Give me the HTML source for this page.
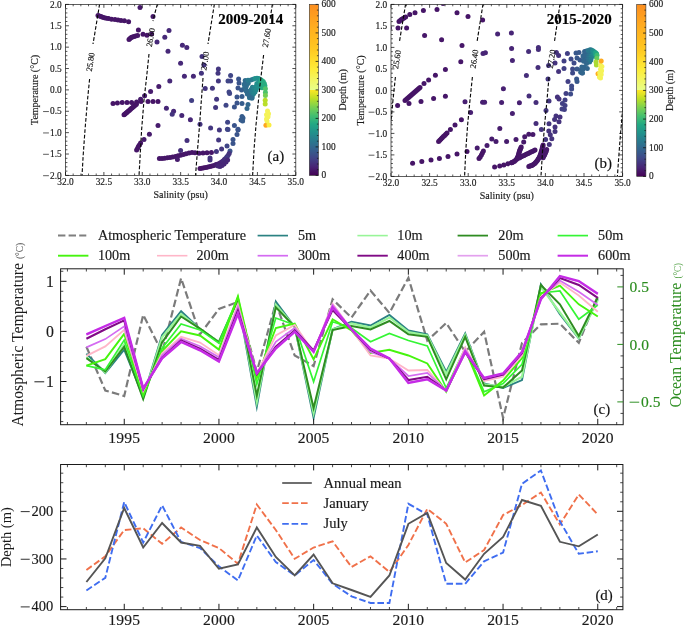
<!DOCTYPE html><html><head><meta charset="utf-8"><title>figure</title>
<style>html,body{margin:0;padding:0;background:#fff;overflow:hidden}svg{display:block;will-change:transform;opacity:0.9999}text{font-family:"Liberation Serif",serif;stroke-width:0.16px;stroke-linejoin:round}</style></head><body>
<svg width="685" height="627" viewBox="0 0 685 627">
<rect width="685" height="627" fill="#fff"/>
<clipPath id="ca"><rect x="65.5" y="4.4" width="230.3" height="171.0"/></clipPath>
<g clip-path="url(#ca)">
<circle cx="98.0" cy="15.4" r="2.5" fill="#461567"/>
<circle cx="99.4" cy="16.0" r="2.5" fill="#461567"/>
<circle cx="101.0" cy="16.6" r="2.5" fill="#461567"/>
<circle cx="102.6" cy="17.2" r="2.5" fill="#461567"/>
<circle cx="104.4" cy="17.8" r="2.5" fill="#461567"/>
<circle cx="106.4" cy="18.2" r="2.5" fill="#461567"/>
<circle cx="108.6" cy="18.6" r="2.5" fill="#461567"/>
<circle cx="111.6" cy="19.2" r="2.5" fill="#461567"/>
<circle cx="115.0" cy="19.6" r="2.5" fill="#461567"/>
<circle cx="118.0" cy="20.0" r="2.5" fill="#461567"/>
<circle cx="121.0" cy="20.4" r="2.5" fill="#461567"/>
<circle cx="124.4" cy="20.8" r="2.5" fill="#461567"/>
<circle cx="128.6" cy="21.8" r="2.5" fill="#461567"/>
<circle cx="140.0" cy="7.4" r="2.5" fill="#471a6b"/>
<circle cx="153.0" cy="16.4" r="2.5" fill="#471a6b"/>
<circle cx="129.0" cy="39.4" r="2.5" fill="#461567"/>
<circle cx="130.0" cy="38.4" r="2.5" fill="#461567"/>
<circle cx="131.2" cy="37.6" r="2.5" fill="#461567"/>
<circle cx="132.4" cy="37.0" r="2.5" fill="#461567"/>
<circle cx="134.0" cy="36.4" r="2.5" fill="#461567"/>
<circle cx="135.6" cy="36.0" r="2.5" fill="#461567"/>
<circle cx="137.6" cy="35.6" r="2.5" fill="#461567"/>
<circle cx="138.4" cy="30.0" r="2.5" fill="#461567"/>
<circle cx="143.0" cy="34.2" r="2.5" fill="#461567"/>
<circle cx="147.0" cy="35.2" r="2.5" fill="#461567"/>
<circle cx="151.6" cy="34.0" r="2.5" fill="#461567"/>
<circle cx="169.0" cy="30.4" r="2.5" fill="#472978"/>
<circle cx="164.8" cy="37.2" r="2.5" fill="#472978"/>
<circle cx="157.0" cy="42.0" r="2.5" fill="#472978"/>
<circle cx="182.4" cy="45.2" r="2.5" fill="#472978"/>
<circle cx="186.8" cy="47.4" r="2.5" fill="#472978"/>
<circle cx="168.0" cy="51.2" r="2.5" fill="#472978"/>
<circle cx="180.6" cy="63.2" r="2.5" fill="#472978"/>
<circle cx="184.4" cy="76.2" r="2.5" fill="#472978"/>
<circle cx="193.4" cy="76.2" r="2.5" fill="#472978"/>
<circle cx="169.8" cy="81.0" r="2.5" fill="#472978"/>
<circle cx="158.8" cy="86.6" r="2.5" fill="#471c6d"/>
<circle cx="150.6" cy="91.6" r="2.5" fill="#471c6d"/>
<circle cx="144.6" cy="95.8" r="2.5" fill="#471c6d"/>
<circle cx="140.6" cy="99.2" r="2.5" fill="#471c6d"/>
<circle cx="113.0" cy="103.4" r="2.5" fill="#461567"/>
<circle cx="117.4" cy="103.0" r="2.5" fill="#461567"/>
<circle cx="122.2" cy="102.6" r="2.5" fill="#461567"/>
<circle cx="127.0" cy="102.4" r="2.5" fill="#461567"/>
<circle cx="131.6" cy="102.4" r="2.5" fill="#461567"/>
<circle cx="136.6" cy="102.0" r="2.5" fill="#461567"/>
<circle cx="141.0" cy="101.5" r="2.5" fill="#461567"/>
<circle cx="148.0" cy="101.6" r="2.5" fill="#461567"/>
<circle cx="153.0" cy="101.6" r="2.5" fill="#461567"/>
<circle cx="158.0" cy="101.6" r="2.5" fill="#461567"/>
<circle cx="124.0" cy="114.8" r="2.5" fill="#461466"/>
<circle cx="125.0" cy="113.9" r="2.5" fill="#461466"/>
<circle cx="126.1" cy="113.0" r="2.5" fill="#461466"/>
<circle cx="127.1" cy="112.2" r="2.5" fill="#461466"/>
<circle cx="128.1" cy="111.3" r="2.5" fill="#461466"/>
<circle cx="129.2" cy="110.4" r="2.5" fill="#461466"/>
<circle cx="130.2" cy="109.5" r="2.5" fill="#461466"/>
<circle cx="131.2" cy="108.6" r="2.5" fill="#461466"/>
<circle cx="132.3" cy="107.7" r="2.5" fill="#461466"/>
<circle cx="133.3" cy="106.8" r="2.5" fill="#461466"/>
<circle cx="134.3" cy="106.0" r="2.5" fill="#461466"/>
<circle cx="135.4" cy="105.1" r="2.5" fill="#461466"/>
<circle cx="136.4" cy="104.2" r="2.5" fill="#461466"/>
<circle cx="191.6" cy="100.6" r="2.5" fill="#423f84"/>
<circle cx="166.4" cy="108.2" r="2.5" fill="#472777"/>
<circle cx="173.6" cy="111.2" r="2.5" fill="#472777"/>
<circle cx="181.8" cy="115.4" r="2.5" fill="#472777"/>
<circle cx="190.4" cy="119.8" r="2.5" fill="#472777"/>
<circle cx="172.2" cy="114.2" r="2.5" fill="#44347e"/>
<circle cx="158.0" cy="125.6" r="2.5" fill="#471c6d"/>
<circle cx="149.4" cy="134.2" r="2.5" fill="#471c6d"/>
<circle cx="144.0" cy="139.4" r="2.5" fill="#471c6d"/>
<circle cx="140.6" cy="143.0" r="2.5" fill="#461567"/>
<circle cx="139.4" cy="145.0" r="2.5" fill="#461567"/>
<circle cx="138.4" cy="146.6" r="2.5" fill="#461567"/>
<circle cx="137.6" cy="148.2" r="2.5" fill="#461567"/>
<circle cx="136.6" cy="150.0" r="2.5" fill="#461567"/>
<circle cx="187.0" cy="140.6" r="2.5" fill="#45307c"/>
<circle cx="180.6" cy="150.6" r="2.5" fill="#45307c"/>
<circle cx="159.4" cy="158.6" r="2.5" fill="#461668"/>
<circle cx="162.0" cy="158.4" r="2.5" fill="#461668"/>
<circle cx="164.6" cy="158.2" r="2.5" fill="#461668"/>
<circle cx="167.4" cy="157.8" r="2.5" fill="#461668"/>
<circle cx="170.0" cy="157.4" r="2.5" fill="#461668"/>
<circle cx="172.6" cy="157.0" r="2.5" fill="#461668"/>
<circle cx="175.4" cy="156.4" r="2.5" fill="#461668"/>
<circle cx="178.0" cy="155.8" r="2.5" fill="#461668"/>
<circle cx="180.6" cy="155.2" r="2.5" fill="#461668"/>
<circle cx="183.4" cy="154.4" r="2.5" fill="#461668"/>
<circle cx="186.0" cy="153.8" r="2.5" fill="#461668"/>
<circle cx="189.0" cy="153.0" r="2.5" fill="#461668"/>
<circle cx="192.0" cy="152.4" r="2.5" fill="#461668"/>
<circle cx="195.0" cy="152.8" r="2.5" fill="#461668"/>
<circle cx="199.0" cy="153.2" r="2.5" fill="#461668"/>
<circle cx="203.0" cy="153.0" r="2.5" fill="#461668"/>
<circle cx="207.0" cy="152.8" r="2.5" fill="#461668"/>
<circle cx="211.4" cy="152.4" r="2.5" fill="#461668"/>
<circle cx="177.4" cy="159.4" r="2.5" fill="#471c6d"/>
<circle cx="202.0" cy="56.6" r="2.5" fill="#44347e"/>
<circle cx="204.0" cy="65.0" r="2.5" fill="#44347e"/>
<circle cx="201.4" cy="73.2" r="2.5" fill="#44347e"/>
<circle cx="205.2" cy="88.6" r="2.5" fill="#44347e"/>
<circle cx="200.0" cy="124.3" r="2.5" fill="#44347e"/>
<circle cx="218.4" cy="69.0" r="2.5" fill="#443780"/>
<circle cx="218.0" cy="73.2" r="2.5" fill="#443780"/>
<circle cx="218.4" cy="81.0" r="2.5" fill="#443780"/>
<circle cx="212.4" cy="88.2" r="2.5" fill="#443780"/>
<circle cx="216.6" cy="99.2" r="2.5" fill="#443780"/>
<circle cx="215.6" cy="107.4" r="2.5" fill="#443780"/>
<circle cx="210.6" cy="128.0" r="2.5" fill="#443780"/>
<circle cx="219.4" cy="130.0" r="2.5" fill="#443780"/>
<circle cx="218.6" cy="140.0" r="2.5" fill="#443780"/>
<circle cx="216.4" cy="151.6" r="2.5" fill="#443780"/>
<circle cx="221.6" cy="149.0" r="2.5" fill="#443780"/>
<circle cx="230.6" cy="75.6" r="2.5" fill="#404687"/>
<circle cx="228.0" cy="81.0" r="2.5" fill="#404687"/>
<circle cx="230.6" cy="81.0" r="2.5" fill="#404687"/>
<circle cx="229.0" cy="92.0" r="2.5" fill="#404687"/>
<circle cx="229.6" cy="93.4" r="2.5" fill="#404687"/>
<circle cx="226.0" cy="105.2" r="2.5" fill="#404687"/>
<circle cx="227.6" cy="122.2" r="2.5" fill="#404687"/>
<circle cx="228.0" cy="129.6" r="2.5" fill="#404687"/>
<circle cx="227.0" cy="146.0" r="2.5" fill="#404687"/>
<circle cx="227.4" cy="129.2" r="2.5" fill="#404687"/>
<circle cx="238.6" cy="79.0" r="2.5" fill="#3a548b"/>
<circle cx="239.0" cy="83.0" r="2.5" fill="#3a548b"/>
<circle cx="238.0" cy="88.0" r="2.5" fill="#3a548b"/>
<circle cx="237.0" cy="97.0" r="2.5" fill="#3a548b"/>
<circle cx="237.0" cy="103.0" r="2.5" fill="#3a548b"/>
<circle cx="234.4" cy="107.0" r="2.5" fill="#3a548b"/>
<circle cx="234.4" cy="125.6" r="2.5" fill="#3a548b"/>
<circle cx="238.0" cy="130.0" r="2.5" fill="#3a548b"/>
<circle cx="237.0" cy="134.4" r="2.5" fill="#3a548b"/>
<circle cx="233.0" cy="139.4" r="2.5" fill="#3a548b"/>
<circle cx="233.0" cy="143.6" r="2.5" fill="#3a548b"/>
<circle cx="230.0" cy="151.0" r="2.5" fill="#3a548b"/>
<circle cx="238.0" cy="129.2" r="2.5" fill="#3a548b"/>
<circle cx="242.0" cy="96.4" r="2.5" fill="#365d8d"/>
<circle cx="242.0" cy="103.4" r="2.5" fill="#365d8d"/>
<circle cx="241.6" cy="89.9" r="2.5" fill="#365d8d"/>
<circle cx="242.0" cy="116.6" r="2.5" fill="#365d8d"/>
<circle cx="243.0" cy="118.0" r="2.5" fill="#365d8d"/>
<circle cx="241.0" cy="120.0" r="2.5" fill="#365d8d"/>
<circle cx="242.6" cy="121.0" r="2.5" fill="#365d8d"/>
<circle cx="248.0" cy="104.4" r="2.5" fill="#31678d"/>
<circle cx="247.0" cy="108.6" r="2.5" fill="#31678d"/>
<circle cx="210.0" cy="158.0" r="2.5" fill="#44347e"/>
<circle cx="210.0" cy="160.0" r="2.5" fill="#44347e"/>
<circle cx="200.0" cy="168.6" r="2.5" fill="#461264"/>
<circle cx="202.0" cy="168.2" r="2.5" fill="#461365"/>
<circle cx="204.0" cy="167.8" r="2.5" fill="#461365"/>
<circle cx="206.0" cy="167.4" r="2.5" fill="#461466"/>
<circle cx="208.0" cy="167.0" r="2.5" fill="#461566"/>
<circle cx="210.0" cy="166.6" r="2.5" fill="#461668"/>
<circle cx="212.0" cy="166.0" r="2.5" fill="#471769"/>
<circle cx="214.0" cy="165.4" r="2.5" fill="#47196b"/>
<circle cx="216.0" cy="164.6" r="2.5" fill="#471c6d"/>
<circle cx="218.0" cy="164.0" r="2.5" fill="#471f70"/>
<circle cx="220.0" cy="163.0" r="2.5" fill="#482273"/>
<circle cx="221.6" cy="162.0" r="2.5" fill="#482576"/>
<circle cx="223.0" cy="161.0" r="2.5" fill="#472978"/>
<circle cx="224.4" cy="159.6" r="2.5" fill="#462d7a"/>
<circle cx="225.6" cy="158.4" r="2.5" fill="#45317c"/>
<circle cx="226.8" cy="157.0" r="2.5" fill="#44367f"/>
<circle cx="228.0" cy="155.6" r="2.5" fill="#433b82"/>
<circle cx="229.2" cy="153.6" r="2.5" fill="#45337d"/>
<circle cx="218.0" cy="166.0" r="2.5" fill="#472777"/>
<circle cx="220.0" cy="166.4" r="2.5" fill="#472777"/>
<circle cx="222.0" cy="165.6" r="2.5" fill="#472777"/>
<circle cx="224.0" cy="164.0" r="2.5" fill="#472777"/>
<circle cx="226.0" cy="162.0" r="2.5" fill="#472777"/>
<circle cx="227.6" cy="160.0" r="2.5" fill="#472777"/>
<circle cx="245.7" cy="83.3" r="2.5" fill="#2e6e8e"/>
<circle cx="248.2" cy="83.3" r="2.5" fill="#2c748e"/>
<circle cx="256.9" cy="83.5" r="2.5" fill="#21928c"/>
<circle cx="246.6" cy="85.3" r="2.5" fill="#2d718e"/>
<circle cx="256.3" cy="86.0" r="2.5" fill="#228d8c"/>
<circle cx="245.9" cy="87.5" r="2.5" fill="#2e6e8e"/>
<circle cx="252.4" cy="87.3" r="2.5" fill="#27818d"/>
<circle cx="254.8" cy="87.9" r="2.5" fill="#24898d"/>
<circle cx="257.0" cy="87.7" r="2.5" fill="#21928c"/>
<circle cx="251.2" cy="89.4" r="2.5" fill="#287d8e"/>
<circle cx="254.0" cy="89.5" r="2.5" fill="#25858d"/>
<circle cx="256.0" cy="89.7" r="2.5" fill="#228d8c"/>
<circle cx="248.1" cy="91.4" r="2.5" fill="#2c748e"/>
<circle cx="250.6" cy="91.8" r="2.5" fill="#297a8e"/>
<circle cx="252.5" cy="91.7" r="2.5" fill="#27818d"/>
<circle cx="255.0" cy="91.9" r="2.5" fill="#24898d"/>
<circle cx="249.4" cy="93.4" r="2.5" fill="#2a778e"/>
<circle cx="251.9" cy="93.3" r="2.5" fill="#287d8e"/>
<circle cx="253.8" cy="93.8" r="2.5" fill="#25858d"/>
<circle cx="250.1" cy="95.6" r="2.5" fill="#297a8e"/>
<circle cx="252.3" cy="95.7" r="2.5" fill="#27818d"/>
<circle cx="249.5" cy="97.7" r="2.5" fill="#2a778e"/>
<circle cx="251.9" cy="97.5" r="2.5" fill="#287d8e"/>
<circle cx="245.2" cy="80.5" r="2.5" fill="#306c8e"/>
<circle cx="244.2" cy="84.2" r="2.5" fill="#306c8e"/>
<circle cx="244.7" cy="87.3" r="2.5" fill="#306c8e"/>
<circle cx="246.2" cy="90.9" r="2.5" fill="#306c8e"/>
<circle cx="247.3" cy="94.0" r="2.5" fill="#306c8e"/>
<circle cx="249.4" cy="96.6" r="2.5" fill="#306c8e"/>
<circle cx="251.9" cy="98.2" r="2.5" fill="#306c8e"/>
<circle cx="248.0" cy="80.3" r="2.5" fill="#297a8e"/>
<circle cx="250.9" cy="80.0" r="2.5" fill="#297a8e"/>
<circle cx="253.0" cy="79.3" r="2.5" fill="#297a8e"/>
<circle cx="255.0" cy="78.5" r="2.5" fill="#21918c"/>
<circle cx="257.0" cy="78.2" r="2.5" fill="#21918c"/>
<circle cx="258.7" cy="78.6" r="2.5" fill="#21918c"/>
<circle cx="259.2" cy="83.7" r="2.5" fill="#21918c"/>
<circle cx="259.6" cy="81.0" r="2.5" fill="#21918c"/>
<circle cx="258.6" cy="86.5" r="2.5" fill="#21918c"/>
<circle cx="261.3" cy="80.0" r="2.5" fill="#28ac81"/>
<circle cx="263.2" cy="81.6" r="2.5" fill="#28ac81"/>
<circle cx="264.3" cy="83.6" r="2.5" fill="#28ac81"/>
<circle cx="264.9" cy="85.8" r="2.5" fill="#28ac81"/>
<circle cx="262.3" cy="84.5" r="2.5" fill="#28ac81"/>
<circle cx="262.0" cy="87.8" r="2.5" fill="#28ac81"/>
<circle cx="260.8" cy="82.5" r="2.5" fill="#28ac81"/>
<circle cx="265.4" cy="88.8" r="2.5" fill="#4dc26b"/>
<circle cx="265.4" cy="92.5" r="2.5" fill="#4dc26b"/>
<circle cx="265.4" cy="95.6" r="2.5" fill="#71ce56"/>
<circle cx="265.2" cy="100.2" r="2.5" fill="#b9de29"/>
<circle cx="265.2" cy="103.9" r="2.5" fill="#b9de29"/>
<circle cx="265.9" cy="125.3" r="2.5" fill="#fea51f"/>
<circle cx="269.0" cy="125.1" r="2.5" fill="#fbed41"/>
<circle cx="267.5" cy="111.1" r="2.5" fill="#f5f357"/>
<circle cx="266.5" cy="114.7" r="2.5" fill="#f5f357"/>
<circle cx="268.0" cy="116.8" r="2.5" fill="#f5f357"/>
<circle cx="266.5" cy="118.9" r="2.5" fill="#f5f357"/>
<circle cx="268.5" cy="113.7" r="2.5" fill="#f5f357"/>
<circle cx="267.0" cy="121.0" r="2.5" fill="#f5f357"/>
</g>
<g clip-path="url(#ca)" fill="none" stroke="#0a0a0a" stroke-width="1.15" stroke-dasharray="3.7,1.9">
<path d="M99.6,4.0 L97.5,17.0 L95.2,31.0 L93.0,44.0"/>
<path d="M89.6,79.0 L87.5,100.0 L85.0,130.0 L83.2,155.0 L82.0,176.0"/>
<path d="M157.4,4.0 L155.2,12.0 L153.0,21.0"/>
<path d="M149.0,54.0 L146.5,78.0 L144.0,100.0 L141.6,130.0 L139.0,176.0"/>
<path d="M214.4,4.0 L211.5,22.0 L208.0,44.0"/>
<path d="M203.0,78.0 L201.0,105.0 L199.6,125.0 L197.5,150.0 L195.5,176.0"/>
<path d="M272.4,4.0 L270.0,20.0"/>
<path d="M263.6,55.0 L260.0,85.0 L256.0,125.0 L254.0,150.0 L252.6,176.0"/>
</g>
<text transform="translate(90.4,62.0) rotate(-82)" font-size="8.4" text-anchor="middle" fill="#111" stroke="#111" stroke-width="0.2" dy="2.8">25.80</text>
<text transform="translate(150.6,37.5) rotate(-80)" font-size="8.4" text-anchor="middle" fill="#111" stroke="#111" stroke-width="0.2" dy="2.8">26.60</text>
<text transform="translate(205.0,61.0) rotate(-81)" font-size="8.4" text-anchor="middle" fill="#111" stroke="#111" stroke-width="0.2" dy="2.8">27.00</text>
<text transform="translate(266.6,38.0) rotate(-80)" font-size="8.4" text-anchor="middle" fill="#111" stroke="#111" stroke-width="0.2" dy="2.8">27.60</text>
<rect x="65.5" y="4.4" width="230.3" height="171.0" fill="none" stroke="#2a2a2a" stroke-width="0.75"/>
<line x1="65.50" y1="175.40" x2="65.50" y2="172.00" stroke="#111" stroke-width="0.75" />
<line x1="65.50" y1="4.40" x2="65.50" y2="7.80" stroke="#111" stroke-width="0.75" />
<line x1="73.18" y1="175.40" x2="73.18" y2="173.50" stroke="#111" stroke-width="0.7" />
<line x1="73.18" y1="4.40" x2="73.18" y2="6.30" stroke="#111" stroke-width="0.7" />
<line x1="80.85" y1="175.40" x2="80.85" y2="173.50" stroke="#111" stroke-width="0.7" />
<line x1="80.85" y1="4.40" x2="80.85" y2="6.30" stroke="#111" stroke-width="0.7" />
<line x1="88.53" y1="175.40" x2="88.53" y2="173.50" stroke="#111" stroke-width="0.7" />
<line x1="88.53" y1="4.40" x2="88.53" y2="6.30" stroke="#111" stroke-width="0.7" />
<line x1="96.21" y1="175.40" x2="96.21" y2="173.50" stroke="#111" stroke-width="0.7" />
<line x1="96.21" y1="4.40" x2="96.21" y2="6.30" stroke="#111" stroke-width="0.7" />
<line x1="103.88" y1="175.40" x2="103.88" y2="172.00" stroke="#111" stroke-width="0.75" />
<line x1="103.88" y1="4.40" x2="103.88" y2="7.80" stroke="#111" stroke-width="0.75" />
<line x1="111.56" y1="175.40" x2="111.56" y2="173.50" stroke="#111" stroke-width="0.7" />
<line x1="111.56" y1="4.40" x2="111.56" y2="6.30" stroke="#111" stroke-width="0.7" />
<line x1="119.24" y1="175.40" x2="119.24" y2="173.50" stroke="#111" stroke-width="0.7" />
<line x1="119.24" y1="4.40" x2="119.24" y2="6.30" stroke="#111" stroke-width="0.7" />
<line x1="126.91" y1="175.40" x2="126.91" y2="173.50" stroke="#111" stroke-width="0.7" />
<line x1="126.91" y1="4.40" x2="126.91" y2="6.30" stroke="#111" stroke-width="0.7" />
<line x1="134.59" y1="175.40" x2="134.59" y2="173.50" stroke="#111" stroke-width="0.7" />
<line x1="134.59" y1="4.40" x2="134.59" y2="6.30" stroke="#111" stroke-width="0.7" />
<line x1="142.27" y1="175.40" x2="142.27" y2="172.00" stroke="#111" stroke-width="0.75" />
<line x1="142.27" y1="4.40" x2="142.27" y2="7.80" stroke="#111" stroke-width="0.75" />
<line x1="149.94" y1="175.40" x2="149.94" y2="173.50" stroke="#111" stroke-width="0.7" />
<line x1="149.94" y1="4.40" x2="149.94" y2="6.30" stroke="#111" stroke-width="0.7" />
<line x1="157.62" y1="175.40" x2="157.62" y2="173.50" stroke="#111" stroke-width="0.7" />
<line x1="157.62" y1="4.40" x2="157.62" y2="6.30" stroke="#111" stroke-width="0.7" />
<line x1="165.30" y1="175.40" x2="165.30" y2="173.50" stroke="#111" stroke-width="0.7" />
<line x1="165.30" y1="4.40" x2="165.30" y2="6.30" stroke="#111" stroke-width="0.7" />
<line x1="172.97" y1="175.40" x2="172.97" y2="173.50" stroke="#111" stroke-width="0.7" />
<line x1="172.97" y1="4.40" x2="172.97" y2="6.30" stroke="#111" stroke-width="0.7" />
<line x1="180.65" y1="175.40" x2="180.65" y2="172.00" stroke="#111" stroke-width="0.75" />
<line x1="180.65" y1="4.40" x2="180.65" y2="7.80" stroke="#111" stroke-width="0.75" />
<line x1="188.33" y1="175.40" x2="188.33" y2="173.50" stroke="#111" stroke-width="0.7" />
<line x1="188.33" y1="4.40" x2="188.33" y2="6.30" stroke="#111" stroke-width="0.7" />
<line x1="196.00" y1="175.40" x2="196.00" y2="173.50" stroke="#111" stroke-width="0.7" />
<line x1="196.00" y1="4.40" x2="196.00" y2="6.30" stroke="#111" stroke-width="0.7" />
<line x1="203.68" y1="175.40" x2="203.68" y2="173.50" stroke="#111" stroke-width="0.7" />
<line x1="203.68" y1="4.40" x2="203.68" y2="6.30" stroke="#111" stroke-width="0.7" />
<line x1="211.36" y1="175.40" x2="211.36" y2="173.50" stroke="#111" stroke-width="0.7" />
<line x1="211.36" y1="4.40" x2="211.36" y2="6.30" stroke="#111" stroke-width="0.7" />
<line x1="219.03" y1="175.40" x2="219.03" y2="172.00" stroke="#111" stroke-width="0.75" />
<line x1="219.03" y1="4.40" x2="219.03" y2="7.80" stroke="#111" stroke-width="0.75" />
<line x1="226.71" y1="175.40" x2="226.71" y2="173.50" stroke="#111" stroke-width="0.7" />
<line x1="226.71" y1="4.40" x2="226.71" y2="6.30" stroke="#111" stroke-width="0.7" />
<line x1="234.39" y1="175.40" x2="234.39" y2="173.50" stroke="#111" stroke-width="0.7" />
<line x1="234.39" y1="4.40" x2="234.39" y2="6.30" stroke="#111" stroke-width="0.7" />
<line x1="242.06" y1="175.40" x2="242.06" y2="173.50" stroke="#111" stroke-width="0.7" />
<line x1="242.06" y1="4.40" x2="242.06" y2="6.30" stroke="#111" stroke-width="0.7" />
<line x1="249.74" y1="175.40" x2="249.74" y2="173.50" stroke="#111" stroke-width="0.7" />
<line x1="249.74" y1="4.40" x2="249.74" y2="6.30" stroke="#111" stroke-width="0.7" />
<line x1="257.42" y1="175.40" x2="257.42" y2="172.00" stroke="#111" stroke-width="0.75" />
<line x1="257.42" y1="4.40" x2="257.42" y2="7.80" stroke="#111" stroke-width="0.75" />
<line x1="265.09" y1="175.40" x2="265.09" y2="173.50" stroke="#111" stroke-width="0.7" />
<line x1="265.09" y1="4.40" x2="265.09" y2="6.30" stroke="#111" stroke-width="0.7" />
<line x1="272.77" y1="175.40" x2="272.77" y2="173.50" stroke="#111" stroke-width="0.7" />
<line x1="272.77" y1="4.40" x2="272.77" y2="6.30" stroke="#111" stroke-width="0.7" />
<line x1="280.45" y1="175.40" x2="280.45" y2="173.50" stroke="#111" stroke-width="0.7" />
<line x1="280.45" y1="4.40" x2="280.45" y2="6.30" stroke="#111" stroke-width="0.7" />
<line x1="288.12" y1="175.40" x2="288.12" y2="173.50" stroke="#111" stroke-width="0.7" />
<line x1="288.12" y1="4.40" x2="288.12" y2="6.30" stroke="#111" stroke-width="0.7" />
<line x1="295.80" y1="175.40" x2="295.80" y2="172.00" stroke="#111" stroke-width="0.75" />
<line x1="295.80" y1="4.40" x2="295.80" y2="7.80" stroke="#111" stroke-width="0.75" />
<line x1="65.50" y1="175.40" x2="68.90" y2="175.40" stroke="#111" stroke-width="0.75" />
<line x1="295.80" y1="175.40" x2="292.40" y2="175.40" stroke="#111" stroke-width="0.75" />
<line x1="65.50" y1="171.12" x2="67.40" y2="171.12" stroke="#111" stroke-width="0.7" />
<line x1="295.80" y1="171.12" x2="293.90" y2="171.12" stroke="#111" stroke-width="0.7" />
<line x1="65.50" y1="166.85" x2="67.40" y2="166.85" stroke="#111" stroke-width="0.7" />
<line x1="295.80" y1="166.85" x2="293.90" y2="166.85" stroke="#111" stroke-width="0.7" />
<line x1="65.50" y1="162.57" x2="67.40" y2="162.57" stroke="#111" stroke-width="0.7" />
<line x1="295.80" y1="162.57" x2="293.90" y2="162.57" stroke="#111" stroke-width="0.7" />
<line x1="65.50" y1="158.30" x2="67.40" y2="158.30" stroke="#111" stroke-width="0.7" />
<line x1="295.80" y1="158.30" x2="293.90" y2="158.30" stroke="#111" stroke-width="0.7" />
<line x1="65.50" y1="154.03" x2="68.90" y2="154.03" stroke="#111" stroke-width="0.75" />
<line x1="295.80" y1="154.03" x2="292.40" y2="154.03" stroke="#111" stroke-width="0.75" />
<line x1="65.50" y1="149.75" x2="67.40" y2="149.75" stroke="#111" stroke-width="0.7" />
<line x1="295.80" y1="149.75" x2="293.90" y2="149.75" stroke="#111" stroke-width="0.7" />
<line x1="65.50" y1="145.47" x2="67.40" y2="145.47" stroke="#111" stroke-width="0.7" />
<line x1="295.80" y1="145.47" x2="293.90" y2="145.47" stroke="#111" stroke-width="0.7" />
<line x1="65.50" y1="141.20" x2="67.40" y2="141.20" stroke="#111" stroke-width="0.7" />
<line x1="295.80" y1="141.20" x2="293.90" y2="141.20" stroke="#111" stroke-width="0.7" />
<line x1="65.50" y1="136.93" x2="67.40" y2="136.93" stroke="#111" stroke-width="0.7" />
<line x1="295.80" y1="136.93" x2="293.90" y2="136.93" stroke="#111" stroke-width="0.7" />
<line x1="65.50" y1="132.65" x2="68.90" y2="132.65" stroke="#111" stroke-width="0.75" />
<line x1="295.80" y1="132.65" x2="292.40" y2="132.65" stroke="#111" stroke-width="0.75" />
<line x1="65.50" y1="128.38" x2="67.40" y2="128.38" stroke="#111" stroke-width="0.7" />
<line x1="295.80" y1="128.38" x2="293.90" y2="128.38" stroke="#111" stroke-width="0.7" />
<line x1="65.50" y1="124.10" x2="67.40" y2="124.10" stroke="#111" stroke-width="0.7" />
<line x1="295.80" y1="124.10" x2="293.90" y2="124.10" stroke="#111" stroke-width="0.7" />
<line x1="65.50" y1="119.83" x2="67.40" y2="119.83" stroke="#111" stroke-width="0.7" />
<line x1="295.80" y1="119.83" x2="293.90" y2="119.83" stroke="#111" stroke-width="0.7" />
<line x1="65.50" y1="115.55" x2="67.40" y2="115.55" stroke="#111" stroke-width="0.7" />
<line x1="295.80" y1="115.55" x2="293.90" y2="115.55" stroke="#111" stroke-width="0.7" />
<line x1="65.50" y1="111.28" x2="68.90" y2="111.28" stroke="#111" stroke-width="0.75" />
<line x1="295.80" y1="111.28" x2="292.40" y2="111.28" stroke="#111" stroke-width="0.75" />
<line x1="65.50" y1="107.00" x2="67.40" y2="107.00" stroke="#111" stroke-width="0.7" />
<line x1="295.80" y1="107.00" x2="293.90" y2="107.00" stroke="#111" stroke-width="0.7" />
<line x1="65.50" y1="102.72" x2="67.40" y2="102.72" stroke="#111" stroke-width="0.7" />
<line x1="295.80" y1="102.72" x2="293.90" y2="102.72" stroke="#111" stroke-width="0.7" />
<line x1="65.50" y1="98.45" x2="67.40" y2="98.45" stroke="#111" stroke-width="0.7" />
<line x1="295.80" y1="98.45" x2="293.90" y2="98.45" stroke="#111" stroke-width="0.7" />
<line x1="65.50" y1="94.17" x2="67.40" y2="94.17" stroke="#111" stroke-width="0.7" />
<line x1="295.80" y1="94.17" x2="293.90" y2="94.17" stroke="#111" stroke-width="0.7" />
<line x1="65.50" y1="89.90" x2="68.90" y2="89.90" stroke="#111" stroke-width="0.75" />
<line x1="295.80" y1="89.90" x2="292.40" y2="89.90" stroke="#111" stroke-width="0.75" />
<line x1="65.50" y1="85.62" x2="67.40" y2="85.62" stroke="#111" stroke-width="0.7" />
<line x1="295.80" y1="85.62" x2="293.90" y2="85.62" stroke="#111" stroke-width="0.7" />
<line x1="65.50" y1="81.35" x2="67.40" y2="81.35" stroke="#111" stroke-width="0.7" />
<line x1="295.80" y1="81.35" x2="293.90" y2="81.35" stroke="#111" stroke-width="0.7" />
<line x1="65.50" y1="77.07" x2="67.40" y2="77.07" stroke="#111" stroke-width="0.7" />
<line x1="295.80" y1="77.07" x2="293.90" y2="77.07" stroke="#111" stroke-width="0.7" />
<line x1="65.50" y1="72.80" x2="67.40" y2="72.80" stroke="#111" stroke-width="0.7" />
<line x1="295.80" y1="72.80" x2="293.90" y2="72.80" stroke="#111" stroke-width="0.7" />
<line x1="65.50" y1="68.53" x2="68.90" y2="68.53" stroke="#111" stroke-width="0.75" />
<line x1="295.80" y1="68.53" x2="292.40" y2="68.53" stroke="#111" stroke-width="0.75" />
<line x1="65.50" y1="64.25" x2="67.40" y2="64.25" stroke="#111" stroke-width="0.7" />
<line x1="295.80" y1="64.25" x2="293.90" y2="64.25" stroke="#111" stroke-width="0.7" />
<line x1="65.50" y1="59.97" x2="67.40" y2="59.97" stroke="#111" stroke-width="0.7" />
<line x1="295.80" y1="59.97" x2="293.90" y2="59.97" stroke="#111" stroke-width="0.7" />
<line x1="65.50" y1="55.70" x2="67.40" y2="55.70" stroke="#111" stroke-width="0.7" />
<line x1="295.80" y1="55.70" x2="293.90" y2="55.70" stroke="#111" stroke-width="0.7" />
<line x1="65.50" y1="51.42" x2="67.40" y2="51.42" stroke="#111" stroke-width="0.7" />
<line x1="295.80" y1="51.42" x2="293.90" y2="51.42" stroke="#111" stroke-width="0.7" />
<line x1="65.50" y1="47.15" x2="68.90" y2="47.15" stroke="#111" stroke-width="0.75" />
<line x1="295.80" y1="47.15" x2="292.40" y2="47.15" stroke="#111" stroke-width="0.75" />
<line x1="65.50" y1="42.88" x2="67.40" y2="42.88" stroke="#111" stroke-width="0.7" />
<line x1="295.80" y1="42.88" x2="293.90" y2="42.88" stroke="#111" stroke-width="0.7" />
<line x1="65.50" y1="38.60" x2="67.40" y2="38.60" stroke="#111" stroke-width="0.7" />
<line x1="295.80" y1="38.60" x2="293.90" y2="38.60" stroke="#111" stroke-width="0.7" />
<line x1="65.50" y1="34.32" x2="67.40" y2="34.32" stroke="#111" stroke-width="0.7" />
<line x1="295.80" y1="34.32" x2="293.90" y2="34.32" stroke="#111" stroke-width="0.7" />
<line x1="65.50" y1="30.05" x2="67.40" y2="30.05" stroke="#111" stroke-width="0.7" />
<line x1="295.80" y1="30.05" x2="293.90" y2="30.05" stroke="#111" stroke-width="0.7" />
<line x1="65.50" y1="25.78" x2="68.90" y2="25.78" stroke="#111" stroke-width="0.75" />
<line x1="295.80" y1="25.78" x2="292.40" y2="25.78" stroke="#111" stroke-width="0.75" />
<line x1="65.50" y1="21.50" x2="67.40" y2="21.50" stroke="#111" stroke-width="0.7" />
<line x1="295.80" y1="21.50" x2="293.90" y2="21.50" stroke="#111" stroke-width="0.7" />
<line x1="65.50" y1="17.22" x2="67.40" y2="17.22" stroke="#111" stroke-width="0.7" />
<line x1="295.80" y1="17.22" x2="293.90" y2="17.22" stroke="#111" stroke-width="0.7" />
<line x1="65.50" y1="12.95" x2="67.40" y2="12.95" stroke="#111" stroke-width="0.7" />
<line x1="295.80" y1="12.95" x2="293.90" y2="12.95" stroke="#111" stroke-width="0.7" />
<line x1="65.50" y1="8.67" x2="67.40" y2="8.67" stroke="#111" stroke-width="0.7" />
<line x1="295.80" y1="8.67" x2="293.90" y2="8.67" stroke="#111" stroke-width="0.7" />
<line x1="65.50" y1="4.40" x2="68.90" y2="4.40" stroke="#111" stroke-width="0.75" />
<line x1="295.80" y1="4.40" x2="292.40" y2="4.40" stroke="#111" stroke-width="0.75" />
<text x="65.50" y="185.20" font-size="9.4" text-anchor="middle" fill="#1a1a1a" stroke="#1a1a1a" font-weight="normal" >32.0</text>
<text x="103.88" y="185.20" font-size="9.4" text-anchor="middle" fill="#1a1a1a" stroke="#1a1a1a" font-weight="normal" >32.5</text>
<text x="142.27" y="185.20" font-size="9.4" text-anchor="middle" fill="#1a1a1a" stroke="#1a1a1a" font-weight="normal" >33.0</text>
<text x="180.65" y="185.20" font-size="9.4" text-anchor="middle" fill="#1a1a1a" stroke="#1a1a1a" font-weight="normal" >33.5</text>
<text x="219.03" y="185.20" font-size="9.4" text-anchor="middle" fill="#1a1a1a" stroke="#1a1a1a" font-weight="normal" >34.0</text>
<text x="257.42" y="185.20" font-size="9.4" text-anchor="middle" fill="#1a1a1a" stroke="#1a1a1a" font-weight="normal" >34.5</text>
<text x="295.80" y="185.20" font-size="9.4" text-anchor="middle" fill="#1a1a1a" stroke="#1a1a1a" font-weight="normal" >35.0</text>
<text x="61.80" y="178.60" font-size="9.4" text-anchor="end" fill="#1a1a1a" stroke="#1a1a1a" font-weight="normal" >2.0</text>
<line x1="43.09" y1="175.69" x2="48.92" y2="175.69" stroke="#1a1a1a" stroke-width="0.7" />
<text x="61.80" y="157.22" font-size="9.4" text-anchor="end" fill="#1a1a1a" stroke="#1a1a1a" font-weight="normal" >1.5</text>
<line x1="43.09" y1="154.31" x2="48.92" y2="154.31" stroke="#1a1a1a" stroke-width="0.7" />
<text x="61.80" y="135.85" font-size="9.4" text-anchor="end" fill="#1a1a1a" stroke="#1a1a1a" font-weight="normal" >1.0</text>
<line x1="43.09" y1="132.94" x2="48.92" y2="132.94" stroke="#1a1a1a" stroke-width="0.7" />
<text x="61.80" y="114.48" font-size="9.4" text-anchor="end" fill="#1a1a1a" stroke="#1a1a1a" font-weight="normal" >0.5</text>
<line x1="43.09" y1="111.56" x2="48.92" y2="111.56" stroke="#1a1a1a" stroke-width="0.7" />
<text x="61.80" y="93.10" font-size="9.4" text-anchor="end" fill="#1a1a1a" stroke="#1a1a1a" font-weight="normal" >0.0</text>
<text x="61.80" y="71.73" font-size="9.4" text-anchor="end" fill="#1a1a1a" stroke="#1a1a1a" font-weight="normal" >0.5</text>
<text x="61.80" y="50.35" font-size="9.4" text-anchor="end" fill="#1a1a1a" stroke="#1a1a1a" font-weight="normal" >1.0</text>
<text x="61.80" y="28.98" font-size="9.4" text-anchor="end" fill="#1a1a1a" stroke="#1a1a1a" font-weight="normal" >1.5</text>
<text x="61.80" y="7.60" font-size="9.4" text-anchor="end" fill="#1a1a1a" stroke="#1a1a1a" font-weight="normal" >2.0</text>
<text x="180.65" y="198.00" font-size="10.0" text-anchor="middle" fill="#1a1a1a" stroke="#1a1a1a" font-weight="normal" >Salinity (psu)</text>
<text transform="translate(38.30,89.90) rotate(-90)" font-size="10.0" text-anchor="middle" fill="#1a1a1a" stroke="#1a1a1a">Temperature (°C)</text>
<text x="218.20" y="24.40" font-size="15" text-anchor="start" fill="#000" stroke="#000" font-weight="bold" >2009-2014</text>
<text x="267.60" y="160.80" font-size="15" text-anchor="start" fill="#111" stroke="#111" font-weight="normal" >(a)</text>
<linearGradient id="gca" x1="0" y1="1" x2="0" y2="0">
<stop offset="0.0000" stop-color="#440154"/>
<stop offset="0.0250" stop-color="#461264"/>
<stop offset="0.0500" stop-color="#482475"/>
<stop offset="0.0750" stop-color="#44347e"/>
<stop offset="0.1000" stop-color="#414487"/>
<stop offset="0.1250" stop-color="#3b528a"/>
<stop offset="0.1500" stop-color="#355f8d"/>
<stop offset="0.1750" stop-color="#306c8e"/>
<stop offset="0.2000" stop-color="#2a788e"/>
<stop offset="0.2250" stop-color="#26848d"/>
<stop offset="0.2500" stop-color="#21918c"/>
<stop offset="0.2750" stop-color="#229c88"/>
<stop offset="0.3000" stop-color="#22a884"/>
<stop offset="0.3250" stop-color="#33b47a"/>
<stop offset="0.3500" stop-color="#44bf70"/>
<stop offset="0.3750" stop-color="#5fc860"/>
<stop offset="0.4000" stop-color="#7ad151"/>
<stop offset="0.4250" stop-color="#9bd83c"/>
<stop offset="0.4500" stop-color="#bddf26"/>
<stop offset="0.4750" stop-color="#dde326"/>
<stop offset="0.5000" stop-color="#fde725"/>
<stop offset="0.5017" stop-color="#e7ff89"/>
<stop offset="0.5400" stop-color="#eff96f"/>
<stop offset="0.5783" stop-color="#f6f355"/>
<stop offset="0.6167" stop-color="#fded3b"/>
<stop offset="0.6550" stop-color="#ffe230"/>
<stop offset="0.6933" stop-color="#ffd629"/>
<stop offset="0.7317" stop-color="#ffca22"/>
<stop offset="0.7700" stop-color="#ffc11f"/>
<stop offset="0.8083" stop-color="#ffb91f"/>
<stop offset="0.8467" stop-color="#ffb21f"/>
<stop offset="0.8850" stop-color="#ffa91f"/>
<stop offset="0.9233" stop-color="#fea01f"/>
<stop offset="0.9617" stop-color="#fd971f"/>
<stop offset="1.0000" stop-color="#fc8e1f"/>
<stop offset="1" stop-color="#fc8e1f"/>
</linearGradient>
<rect x="309.3" y="4.4" width="9.099999999999966" height="171.0" fill="url(#gca)" stroke="#333" stroke-width="0.6"/>
<line x1="318.40" y1="175.40" x2="315.60" y2="175.40" stroke="#111" stroke-width="0.8" />
<text x="321.60" y="178.40" font-size="9.4" text-anchor="start" fill="#1a1a1a" stroke="#1a1a1a" font-weight="normal" >0</text>
<line x1="318.40" y1="169.70" x2="316.90" y2="169.70" stroke="#111" stroke-width="0.7" />
<line x1="318.40" y1="164.00" x2="316.90" y2="164.00" stroke="#111" stroke-width="0.7" />
<line x1="318.40" y1="158.30" x2="316.90" y2="158.30" stroke="#111" stroke-width="0.7" />
<line x1="318.40" y1="152.60" x2="316.90" y2="152.60" stroke="#111" stroke-width="0.7" />
<line x1="318.40" y1="146.90" x2="315.60" y2="146.90" stroke="#111" stroke-width="0.8" />
<text x="321.60" y="149.90" font-size="9.4" text-anchor="start" fill="#1a1a1a" stroke="#1a1a1a" font-weight="normal" >100</text>
<line x1="318.40" y1="141.20" x2="316.90" y2="141.20" stroke="#111" stroke-width="0.7" />
<line x1="318.40" y1="135.50" x2="316.90" y2="135.50" stroke="#111" stroke-width="0.7" />
<line x1="318.40" y1="129.80" x2="316.90" y2="129.80" stroke="#111" stroke-width="0.7" />
<line x1="318.40" y1="124.10" x2="316.90" y2="124.10" stroke="#111" stroke-width="0.7" />
<line x1="318.40" y1="118.40" x2="315.60" y2="118.40" stroke="#111" stroke-width="0.8" />
<text x="321.60" y="121.40" font-size="9.4" text-anchor="start" fill="#1a1a1a" stroke="#1a1a1a" font-weight="normal" >200</text>
<line x1="318.40" y1="112.70" x2="316.90" y2="112.70" stroke="#111" stroke-width="0.7" />
<line x1="318.40" y1="107.00" x2="316.90" y2="107.00" stroke="#111" stroke-width="0.7" />
<line x1="318.40" y1="101.30" x2="316.90" y2="101.30" stroke="#111" stroke-width="0.7" />
<line x1="318.40" y1="95.60" x2="316.90" y2="95.60" stroke="#111" stroke-width="0.7" />
<line x1="318.40" y1="89.90" x2="315.60" y2="89.90" stroke="#111" stroke-width="0.8" />
<text x="321.60" y="92.90" font-size="9.4" text-anchor="start" fill="#1a1a1a" stroke="#1a1a1a" font-weight="normal" >300</text>
<line x1="318.40" y1="84.20" x2="316.90" y2="84.20" stroke="#111" stroke-width="0.7" />
<line x1="318.40" y1="78.50" x2="316.90" y2="78.50" stroke="#111" stroke-width="0.7" />
<line x1="318.40" y1="72.80" x2="316.90" y2="72.80" stroke="#111" stroke-width="0.7" />
<line x1="318.40" y1="67.10" x2="316.90" y2="67.10" stroke="#111" stroke-width="0.7" />
<line x1="318.40" y1="61.40" x2="315.60" y2="61.40" stroke="#111" stroke-width="0.8" />
<text x="321.60" y="64.40" font-size="9.4" text-anchor="start" fill="#1a1a1a" stroke="#1a1a1a" font-weight="normal" >400</text>
<line x1="318.40" y1="55.70" x2="316.90" y2="55.70" stroke="#111" stroke-width="0.7" />
<line x1="318.40" y1="50.00" x2="316.90" y2="50.00" stroke="#111" stroke-width="0.7" />
<line x1="318.40" y1="44.30" x2="316.90" y2="44.30" stroke="#111" stroke-width="0.7" />
<line x1="318.40" y1="38.60" x2="316.90" y2="38.60" stroke="#111" stroke-width="0.7" />
<line x1="318.40" y1="32.90" x2="315.60" y2="32.90" stroke="#111" stroke-width="0.8" />
<text x="321.60" y="35.90" font-size="9.4" text-anchor="start" fill="#1a1a1a" stroke="#1a1a1a" font-weight="normal" >500</text>
<line x1="318.40" y1="27.20" x2="316.90" y2="27.20" stroke="#111" stroke-width="0.7" />
<line x1="318.40" y1="21.50" x2="316.90" y2="21.50" stroke="#111" stroke-width="0.7" />
<line x1="318.40" y1="15.80" x2="316.90" y2="15.80" stroke="#111" stroke-width="0.7" />
<line x1="318.40" y1="10.10" x2="316.90" y2="10.10" stroke="#111" stroke-width="0.7" />
<line x1="318.40" y1="4.40" x2="315.60" y2="4.40" stroke="#111" stroke-width="0.8" />
<text x="321.60" y="7.40" font-size="9.4" text-anchor="start" fill="#1a1a1a" stroke="#1a1a1a" font-weight="normal" >600</text>
<text transform="translate(346.20,89.90) rotate(-90)" font-size="10.0" text-anchor="middle" fill="#1a1a1a" stroke="#1a1a1a">Depth (m)</text>
<clipPath id="cb"><rect x="391.0" y="4.4" width="231.60000000000002" height="172.0"/></clipPath>
<g clip-path="url(#cb)">
<circle cx="399.0" cy="21.6" r="2.5" fill="#461567"/>
<circle cx="400.2" cy="20.6" r="2.5" fill="#461567"/>
<circle cx="401.4" cy="19.6" r="2.5" fill="#461567"/>
<circle cx="402.6" cy="18.8" r="2.5" fill="#461567"/>
<circle cx="404.0" cy="18.0" r="2.5" fill="#461567"/>
<circle cx="405.6" cy="17.0" r="2.5" fill="#461567"/>
<circle cx="409.8" cy="14.6" r="2.5" fill="#461567"/>
<circle cx="415.0" cy="12.8" r="2.5" fill="#461567"/>
<circle cx="423.4" cy="10.4" r="2.5" fill="#461567"/>
<circle cx="437.0" cy="9.6" r="2.5" fill="#461567"/>
<circle cx="443.0" cy="3.6" r="2.5" fill="#461567"/>
<circle cx="457.0" cy="12.8" r="2.5" fill="#461567"/>
<circle cx="468.0" cy="16.4" r="2.5" fill="#461567"/>
<circle cx="482.6" cy="20.0" r="2.5" fill="#461567"/>
<circle cx="398.0" cy="28.0" r="2.5" fill="#461668"/>
<circle cx="406.6" cy="28.0" r="2.5" fill="#461668"/>
<circle cx="389.4" cy="28.0" r="2.5" fill="#461668"/>
<circle cx="424.6" cy="35.4" r="2.5" fill="#471769"/>
<circle cx="441.6" cy="39.8" r="2.5" fill="#471769"/>
<circle cx="462.0" cy="45.4" r="2.5" fill="#471769"/>
<circle cx="497.6" cy="34.0" r="2.5" fill="#482576"/>
<circle cx="511.4" cy="33.0" r="2.5" fill="#482576"/>
<circle cx="511.6" cy="48.6" r="2.5" fill="#482576"/>
<circle cx="483.0" cy="53.6" r="2.5" fill="#482576"/>
<circle cx="485.4" cy="52.8" r="2.5" fill="#482576"/>
<circle cx="512.4" cy="60.4" r="2.5" fill="#482576"/>
<circle cx="460.8" cy="61.8" r="2.5" fill="#461668"/>
<circle cx="445.4" cy="69.4" r="2.5" fill="#461668"/>
<circle cx="435.4" cy="75.2" r="2.5" fill="#461668"/>
<circle cx="428.6" cy="80.0" r="2.5" fill="#461668"/>
<circle cx="424.0" cy="83.4" r="2.5" fill="#461668"/>
<circle cx="420.0" cy="87.6" r="2.5" fill="#461466"/>
<circle cx="418.8" cy="88.6" r="2.5" fill="#461466"/>
<circle cx="417.7" cy="89.6" r="2.5" fill="#461466"/>
<circle cx="416.5" cy="90.6" r="2.5" fill="#461466"/>
<circle cx="415.4" cy="91.6" r="2.5" fill="#461466"/>
<circle cx="414.2" cy="92.6" r="2.5" fill="#461466"/>
<circle cx="413.1" cy="93.6" r="2.5" fill="#461466"/>
<circle cx="411.9" cy="94.6" r="2.5" fill="#461466"/>
<circle cx="410.8" cy="95.6" r="2.5" fill="#461466"/>
<circle cx="409.6" cy="96.6" r="2.5" fill="#461466"/>
<circle cx="408.5" cy="97.6" r="2.5" fill="#461466"/>
<circle cx="407.3" cy="98.6" r="2.5" fill="#461466"/>
<circle cx="406.2" cy="99.6" r="2.5" fill="#461466"/>
<circle cx="405.0" cy="100.6" r="2.5" fill="#461466"/>
<circle cx="397.6" cy="105.4" r="2.5" fill="#461668"/>
<circle cx="409.0" cy="103.6" r="2.5" fill="#461668"/>
<circle cx="421.0" cy="101.6" r="2.5" fill="#461668"/>
<circle cx="433.6" cy="98.6" r="2.5" fill="#461668"/>
<circle cx="445.4" cy="96.2" r="2.5" fill="#461668"/>
<circle cx="503.4" cy="88.8" r="2.5" fill="#482072"/>
<circle cx="465.0" cy="101.8" r="2.5" fill="#482072"/>
<circle cx="482.6" cy="102.2" r="2.5" fill="#482072"/>
<circle cx="484.6" cy="102.2" r="2.5" fill="#482072"/>
<circle cx="501.6" cy="102.4" r="2.5" fill="#482072"/>
<circle cx="519.4" cy="102.8" r="2.5" fill="#482072"/>
<circle cx="470.6" cy="112.6" r="2.5" fill="#482072"/>
<circle cx="512.4" cy="113.6" r="2.5" fill="#482072"/>
<circle cx="461.4" cy="119.8" r="2.5" fill="#461668"/>
<circle cx="455.0" cy="125.0" r="2.5" fill="#461668"/>
<circle cx="450.4" cy="129.4" r="2.5" fill="#461668"/>
<circle cx="447.0" cy="133.0" r="2.5" fill="#461466"/>
<circle cx="445.8" cy="134.2" r="2.5" fill="#461466"/>
<circle cx="444.6" cy="135.4" r="2.5" fill="#461466"/>
<circle cx="443.4" cy="136.6" r="2.5" fill="#461466"/>
<circle cx="442.2" cy="137.8" r="2.5" fill="#461466"/>
<circle cx="441.0" cy="139.0" r="2.5" fill="#461466"/>
<circle cx="439.8" cy="140.2" r="2.5" fill="#461466"/>
<circle cx="438.6" cy="141.4" r="2.5" fill="#461466"/>
<circle cx="499.8" cy="128.4" r="2.5" fill="#471c6d"/>
<circle cx="491.8" cy="139.0" r="2.5" fill="#471c6d"/>
<circle cx="496.0" cy="141.4" r="2.5" fill="#471c6d"/>
<circle cx="506.6" cy="141.4" r="2.5" fill="#471c6d"/>
<circle cx="516.0" cy="139.4" r="2.5" fill="#471c6d"/>
<circle cx="487.0" cy="145.4" r="2.5" fill="#471c6d"/>
<circle cx="477.2" cy="148.0" r="2.5" fill="#471c6d"/>
<circle cx="483.4" cy="151.0" r="2.5" fill="#461567"/>
<circle cx="482.4" cy="153.0" r="2.5" fill="#461567"/>
<circle cx="481.4" cy="155.0" r="2.5" fill="#461567"/>
<circle cx="480.2" cy="157.0" r="2.5" fill="#461567"/>
<circle cx="479.0" cy="158.6" r="2.5" fill="#461567"/>
<circle cx="412.6" cy="163.2" r="2.5" fill="#461567"/>
<circle cx="421.8" cy="161.6" r="2.5" fill="#461567"/>
<circle cx="431.0" cy="160.0" r="2.5" fill="#461567"/>
<circle cx="439.4" cy="158.4" r="2.5" fill="#461567"/>
<circle cx="448.0" cy="156.6" r="2.5" fill="#461567"/>
<circle cx="457.0" cy="154.0" r="2.5" fill="#461567"/>
<circle cx="467.0" cy="151.4" r="2.5" fill="#461567"/>
<circle cx="494.6" cy="166.9" r="2.5" fill="#461567"/>
<circle cx="499.7" cy="165.9" r="2.5" fill="#461567"/>
<circle cx="503.8" cy="164.9" r="2.5" fill="#461567"/>
<circle cx="507.9" cy="163.8" r="2.5" fill="#461567"/>
<circle cx="511.5" cy="162.8" r="2.5" fill="#461567"/>
<circle cx="511.5" cy="162.8" r="2.5" fill="#461567"/>
<circle cx="512.5" cy="162.3" r="2.5" fill="#461567"/>
<circle cx="513.5" cy="161.8" r="2.5" fill="#461567"/>
<circle cx="514.5" cy="161.3" r="2.5" fill="#461567"/>
<circle cx="515.5" cy="160.2" r="2.5" fill="#461567"/>
<circle cx="516.6" cy="159.2" r="2.5" fill="#461567"/>
<circle cx="517.1" cy="158.2" r="2.5" fill="#461567"/>
<circle cx="517.6" cy="157.2" r="2.5" fill="#461567"/>
<circle cx="518.1" cy="156.2" r="2.5" fill="#461567"/>
<circle cx="518.4" cy="155.0" r="2.5" fill="#461567"/>
<circle cx="518.8" cy="153.8" r="2.5" fill="#461567"/>
<circle cx="519.1" cy="152.6" r="2.5" fill="#461567"/>
<circle cx="519.4" cy="151.6" r="2.5" fill="#461567"/>
<circle cx="519.8" cy="150.5" r="2.5" fill="#461567"/>
<circle cx="520.1" cy="149.5" r="2.5" fill="#461567"/>
<circle cx="520.7" cy="148.2" r="2.5" fill="#461567"/>
<circle cx="521.2" cy="147.0" r="2.5" fill="#461567"/>
<circle cx="518.6" cy="158.2" r="2.5" fill="#461668"/>
<circle cx="520.0" cy="157.5" r="2.5" fill="#461668"/>
<circle cx="521.3" cy="156.8" r="2.5" fill="#461668"/>
<circle cx="522.7" cy="156.1" r="2.5" fill="#461668"/>
<circle cx="524.1" cy="155.5" r="2.5" fill="#461668"/>
<circle cx="525.4" cy="154.8" r="2.5" fill="#461668"/>
<circle cx="526.8" cy="154.1" r="2.5" fill="#461668"/>
<circle cx="528.2" cy="153.4" r="2.5" fill="#461668"/>
<circle cx="529.5" cy="152.7" r="2.5" fill="#461668"/>
<circle cx="530.9" cy="152.1" r="2.5" fill="#461668"/>
<circle cx="532.3" cy="151.4" r="2.5" fill="#461668"/>
<circle cx="533.6" cy="150.7" r="2.5" fill="#461668"/>
<circle cx="535.0" cy="150.0" r="2.5" fill="#461668"/>
<circle cx="528.8" cy="166.4" r="2.5" fill="#461668"/>
<circle cx="529.8" cy="166.1" r="2.5" fill="#461668"/>
<circle cx="530.9" cy="165.7" r="2.5" fill="#461668"/>
<circle cx="531.9" cy="165.4" r="2.5" fill="#461668"/>
<circle cx="532.9" cy="164.7" r="2.5" fill="#461668"/>
<circle cx="534.0" cy="164.0" r="2.5" fill="#461668"/>
<circle cx="535.0" cy="163.3" r="2.5" fill="#461668"/>
<circle cx="535.8" cy="162.3" r="2.5" fill="#461668"/>
<circle cx="536.7" cy="161.3" r="2.5" fill="#461668"/>
<circle cx="537.5" cy="160.3" r="2.5" fill="#461668"/>
<circle cx="538.2" cy="159.1" r="2.5" fill="#461668"/>
<circle cx="538.9" cy="157.9" r="2.5" fill="#461668"/>
<circle cx="539.6" cy="156.7" r="2.5" fill="#461668"/>
<circle cx="540.1" cy="155.3" r="2.5" fill="#461668"/>
<circle cx="540.6" cy="154.0" r="2.5" fill="#461668"/>
<circle cx="541.1" cy="152.6" r="2.5" fill="#461668"/>
<circle cx="541.4" cy="151.4" r="2.5" fill="#461668"/>
<circle cx="541.8" cy="150.2" r="2.5" fill="#461668"/>
<circle cx="542.1" cy="149.0" r="2.5" fill="#461668"/>
<circle cx="542.4" cy="147.6" r="2.5" fill="#461668"/>
<circle cx="542.8" cy="146.3" r="2.5" fill="#461668"/>
<circle cx="543.1" cy="144.9" r="2.5" fill="#461668"/>
<circle cx="543.1" cy="157.7" r="2.5" fill="#471a6b"/>
<circle cx="543.8" cy="156.3" r="2.5" fill="#471a6b"/>
<circle cx="544.5" cy="155.0" r="2.5" fill="#471a6b"/>
<circle cx="545.2" cy="153.6" r="2.5" fill="#471a6b"/>
<circle cx="545.7" cy="152.2" r="2.5" fill="#471a6b"/>
<circle cx="546.2" cy="150.9" r="2.5" fill="#471a6b"/>
<circle cx="546.7" cy="149.5" r="2.5" fill="#471a6b"/>
<circle cx="523.7" cy="141.9" r="2.5" fill="#471a6b"/>
<circle cx="524.7" cy="136.8" r="2.5" fill="#471a6b"/>
<circle cx="528.8" cy="134.2" r="2.5" fill="#471a6b"/>
<circle cx="532.9" cy="134.4" r="2.5" fill="#471a6b"/>
<circle cx="528.6" cy="51.4" r="2.5" fill="#462e7a"/>
<circle cx="538.4" cy="47.4" r="2.5" fill="#462e7a"/>
<circle cx="538.4" cy="49.4" r="2.5" fill="#462e7a"/>
<circle cx="538.0" cy="67.4" r="2.5" fill="#462e7a"/>
<circle cx="526.4" cy="75.4" r="2.5" fill="#462e7a"/>
<circle cx="529.0" cy="96.0" r="2.5" fill="#462e7a"/>
<circle cx="536.0" cy="102.4" r="2.5" fill="#462e7a"/>
<circle cx="536.0" cy="123.6" r="2.5" fill="#462e7a"/>
<circle cx="549.0" cy="123.8" r="2.5" fill="#44367f"/>
<circle cx="546.0" cy="110.4" r="2.5" fill="#44367f"/>
<circle cx="549.0" cy="101.0" r="2.5" fill="#44367f"/>
<circle cx="548.0" cy="79.0" r="2.5" fill="#44367f"/>
<circle cx="548.6" cy="65.4" r="2.5" fill="#44367f"/>
<circle cx="541.4" cy="129.6" r="2.5" fill="#44367f"/>
<circle cx="545.6" cy="139.4" r="2.5" fill="#44367f"/>
<circle cx="556.4" cy="52.4" r="2.5" fill="#45337d"/>
<circle cx="558.6" cy="55.6" r="2.5" fill="#45337d"/>
<circle cx="555.0" cy="63.0" r="2.5" fill="#45337d"/>
<circle cx="558.6" cy="71.4" r="2.5" fill="#45337d"/>
<circle cx="557.4" cy="97.0" r="2.5" fill="#45337d"/>
<circle cx="559.0" cy="99.0" r="2.5" fill="#45337d"/>
<circle cx="556.0" cy="116.0" r="2.5" fill="#45337d"/>
<circle cx="560.0" cy="117.0" r="2.5" fill="#45337d"/>
<circle cx="554.6" cy="119.6" r="2.5" fill="#45337d"/>
<circle cx="559.0" cy="121.8" r="2.5" fill="#45337d"/>
<circle cx="555.0" cy="127.0" r="2.5" fill="#45337d"/>
<circle cx="555.0" cy="131.6" r="2.5" fill="#45337d"/>
<circle cx="548.8" cy="131.1" r="2.5" fill="#45337d"/>
<circle cx="550.3" cy="134.7" r="2.5" fill="#45337d"/>
<circle cx="551.8" cy="138.8" r="2.5" fill="#45337d"/>
<circle cx="549.3" cy="144.4" r="2.5" fill="#45337d"/>
<circle cx="564.0" cy="61.0" r="2.5" fill="#424085"/>
<circle cx="567.4" cy="53.6" r="2.5" fill="#424085"/>
<circle cx="564.0" cy="68.4" r="2.5" fill="#424085"/>
<circle cx="568.0" cy="81.6" r="2.5" fill="#424085"/>
<circle cx="566.0" cy="93.6" r="2.5" fill="#424085"/>
<circle cx="565.0" cy="100.0" r="2.5" fill="#424085"/>
<circle cx="562.4" cy="103.4" r="2.5" fill="#424085"/>
<circle cx="565.0" cy="105.4" r="2.5" fill="#424085"/>
<circle cx="562.0" cy="109.0" r="2.5" fill="#424085"/>
<circle cx="564.4" cy="109.6" r="2.5" fill="#424085"/>
<circle cx="571.0" cy="59.0" r="2.5" fill="#3e4b89"/>
<circle cx="574.0" cy="63.0" r="2.5" fill="#3e4b89"/>
<circle cx="572.6" cy="69.0" r="2.5" fill="#3e4b89"/>
<circle cx="572.6" cy="73.0" r="2.5" fill="#3e4b89"/>
<circle cx="571.6" cy="86.0" r="2.5" fill="#3e4b89"/>
<circle cx="571.6" cy="89.0" r="2.5" fill="#3e4b89"/>
<circle cx="570.6" cy="94.0" r="2.5" fill="#3e4b89"/>
<circle cx="576.0" cy="53.0" r="2.5" fill="#38588b"/>
<circle cx="579.0" cy="52.4" r="2.5" fill="#38588b"/>
<circle cx="577.0" cy="58.0" r="2.5" fill="#38588b"/>
<circle cx="580.0" cy="60.0" r="2.5" fill="#38588b"/>
<circle cx="577.0" cy="69.0" r="2.5" fill="#38588b"/>
<circle cx="581.0" cy="70.0" r="2.5" fill="#38588b"/>
<circle cx="582.0" cy="73.0" r="2.5" fill="#38588b"/>
<circle cx="576.6" cy="79.0" r="2.5" fill="#38588b"/>
<circle cx="577.0" cy="81.6" r="2.5" fill="#38588b"/>
<circle cx="586.2" cy="51.8" r="2.5" fill="#31698d"/>
<circle cx="588.6" cy="51.8" r="2.5" fill="#2d728e"/>
<circle cx="590.7" cy="52.0" r="2.5" fill="#287d8e"/>
<circle cx="592.5" cy="52.1" r="2.5" fill="#238b8c"/>
<circle cx="584.8" cy="54.0" r="2.5" fill="#32658d"/>
<circle cx="587.1" cy="53.7" r="2.5" fill="#2f6d8e"/>
<circle cx="589.5" cy="54.3" r="2.5" fill="#2a778e"/>
<circle cx="591.5" cy="53.8" r="2.5" fill="#26838d"/>
<circle cx="594.1" cy="54.4" r="2.5" fill="#21938b"/>
<circle cx="586.4" cy="55.9" r="2.5" fill="#31698d"/>
<circle cx="588.9" cy="55.6" r="2.5" fill="#2d728e"/>
<circle cx="591.0" cy="55.8" r="2.5" fill="#287d8e"/>
<circle cx="592.6" cy="55.6" r="2.5" fill="#238b8c"/>
<circle cx="594.9" cy="56.2" r="2.5" fill="#229e87"/>
<circle cx="584.9" cy="57.9" r="2.5" fill="#32658d"/>
<circle cx="587.5" cy="57.8" r="2.5" fill="#2f6d8e"/>
<circle cx="589.6" cy="57.5" r="2.5" fill="#2a778e"/>
<circle cx="591.4" cy="57.6" r="2.5" fill="#26838d"/>
<circle cx="584.2" cy="59.7" r="2.5" fill="#34618d"/>
<circle cx="586.2" cy="59.8" r="2.5" fill="#31698d"/>
<circle cx="588.5" cy="59.6" r="2.5" fill="#2d728e"/>
<circle cx="590.9" cy="59.9" r="2.5" fill="#287d8e"/>
<circle cx="587.2" cy="61.7" r="2.5" fill="#2f6d8e"/>
<circle cx="589.6" cy="62.0" r="2.5" fill="#2a778e"/>
<circle cx="586.5" cy="63.4" r="2.5" fill="#31698d"/>
<circle cx="584.6" cy="51.6" r="2.5" fill="#33648d"/>
<circle cx="586.4" cy="51.0" r="2.5" fill="#33648d"/>
<circle cx="588.2" cy="50.4" r="2.5" fill="#2a788e"/>
<circle cx="590.0" cy="49.8" r="2.5" fill="#2a788e"/>
<circle cx="591.4" cy="50.0" r="2.5" fill="#2a788e"/>
<circle cx="592.8" cy="50.8" r="2.5" fill="#228f8c"/>
<circle cx="594.2" cy="51.8" r="2.5" fill="#228f8c"/>
<circle cx="595.6" cy="52.8" r="2.5" fill="#22a685"/>
<circle cx="596.6" cy="53.8" r="2.5" fill="#22a685"/>
<circle cx="597.0" cy="55.2" r="2.5" fill="#3ebb73"/>
<circle cx="583.0" cy="56.0" r="2.5" fill="#32668d"/>
<circle cx="584.3" cy="67.1" r="2.5" fill="#32668d"/>
<circle cx="583.6" cy="61.3" r="2.5" fill="#32668d"/>
<circle cx="581.8" cy="67.1" r="2.5" fill="#32668d"/>
<circle cx="582.9" cy="69.3" r="2.5" fill="#32668d"/>
<circle cx="580.7" cy="72.3" r="2.5" fill="#32668d"/>
<circle cx="582.5" cy="73.0" r="2.5" fill="#32668d"/>
<circle cx="587.3" cy="68.6" r="2.5" fill="#32668d"/>
<circle cx="596.8" cy="58.3" r="2.5" fill="#64ca5d"/>
<circle cx="596.0" cy="62.0" r="2.5" fill="#abdb31"/>
<circle cx="596.4" cy="65.0" r="2.5" fill="#abdb31"/>
<circle cx="598.0" cy="73.7" r="2.5" fill="#ffad1f"/>
<circle cx="600.5" cy="65.3" r="2.5" fill="#f5f357"/>
<circle cx="601.9" cy="66.4" r="2.5" fill="#f5f357"/>
<circle cx="600.5" cy="69.3" r="2.5" fill="#f5f357"/>
<circle cx="601.6" cy="70.8" r="2.5" fill="#f5f357"/>
<circle cx="599.7" cy="73.0" r="2.5" fill="#f5f357"/>
<circle cx="601.2" cy="74.5" r="2.5" fill="#f5f357"/>
<circle cx="599.4" cy="77.0" r="2.5" fill="#f5f357"/>
<circle cx="600.5" cy="78.1" r="2.5" fill="#f5f357"/>
<circle cx="601.2" cy="60.9" r="2.5" fill="#ffaa1f"/>
</g>
<g clip-path="url(#cb)" fill="none" stroke="#0a0a0a" stroke-width="1.15" stroke-dasharray="3.7,1.9">
<path d="M405.6,4.0 L403.0,20.0 L399.4,42.0"/>
<path d="M395.4,77.0 L393.0,100.0 L390.6,125.0 L389.0,140.0"/>
<path d="M483.0,4.0 L480.5,20.0 L477.0,42.0"/>
<path d="M472.4,77.0 L470.0,100.0 L467.6,125.0 L465.8,150.0 L464.6,176.0"/>
<path d="M560.0,4.0 L557.5,21.0 L554.4,42.0"/>
<path d="M549.0,77.0 L547.0,100.0 L544.6,125.0 L542.6,150.0 L541.0,176.0"/>
<path d="M622.8,108.0 L620.0,140.0 L617.4,176.0"/>
</g>
<text transform="translate(396.8,59.5) rotate(-81)" font-size="8.4" text-anchor="middle" fill="#111" stroke="#111" stroke-width="0.2" dy="2.8">25.60</text>
<text transform="translate(474.2,59.0) rotate(-81)" font-size="8.4" text-anchor="middle" fill="#111" stroke="#111" stroke-width="0.2" dy="2.8">26.40</text>
<text transform="translate(551.4,59.0) rotate(-81)" font-size="8.4" text-anchor="middle" fill="#111" stroke="#111" stroke-width="0.2" dy="2.8">27.20</text>
<rect x="391.0" y="4.4" width="231.60000000000002" height="172.0" fill="none" stroke="#2a2a2a" stroke-width="0.75"/>
<line x1="391.00" y1="176.40" x2="391.00" y2="173.00" stroke="#111" stroke-width="0.75" />
<line x1="391.00" y1="4.40" x2="391.00" y2="7.80" stroke="#111" stroke-width="0.75" />
<line x1="398.72" y1="176.40" x2="398.72" y2="174.50" stroke="#111" stroke-width="0.7" />
<line x1="398.72" y1="4.40" x2="398.72" y2="6.30" stroke="#111" stroke-width="0.7" />
<line x1="406.44" y1="176.40" x2="406.44" y2="174.50" stroke="#111" stroke-width="0.7" />
<line x1="406.44" y1="4.40" x2="406.44" y2="6.30" stroke="#111" stroke-width="0.7" />
<line x1="414.16" y1="176.40" x2="414.16" y2="174.50" stroke="#111" stroke-width="0.7" />
<line x1="414.16" y1="4.40" x2="414.16" y2="6.30" stroke="#111" stroke-width="0.7" />
<line x1="421.88" y1="176.40" x2="421.88" y2="174.50" stroke="#111" stroke-width="0.7" />
<line x1="421.88" y1="4.40" x2="421.88" y2="6.30" stroke="#111" stroke-width="0.7" />
<line x1="429.60" y1="176.40" x2="429.60" y2="173.00" stroke="#111" stroke-width="0.75" />
<line x1="429.60" y1="4.40" x2="429.60" y2="7.80" stroke="#111" stroke-width="0.75" />
<line x1="437.32" y1="176.40" x2="437.32" y2="174.50" stroke="#111" stroke-width="0.7" />
<line x1="437.32" y1="4.40" x2="437.32" y2="6.30" stroke="#111" stroke-width="0.7" />
<line x1="445.04" y1="176.40" x2="445.04" y2="174.50" stroke="#111" stroke-width="0.7" />
<line x1="445.04" y1="4.40" x2="445.04" y2="6.30" stroke="#111" stroke-width="0.7" />
<line x1="452.76" y1="176.40" x2="452.76" y2="174.50" stroke="#111" stroke-width="0.7" />
<line x1="452.76" y1="4.40" x2="452.76" y2="6.30" stroke="#111" stroke-width="0.7" />
<line x1="460.48" y1="176.40" x2="460.48" y2="174.50" stroke="#111" stroke-width="0.7" />
<line x1="460.48" y1="4.40" x2="460.48" y2="6.30" stroke="#111" stroke-width="0.7" />
<line x1="468.20" y1="176.40" x2="468.20" y2="173.00" stroke="#111" stroke-width="0.75" />
<line x1="468.20" y1="4.40" x2="468.20" y2="7.80" stroke="#111" stroke-width="0.75" />
<line x1="475.92" y1="176.40" x2="475.92" y2="174.50" stroke="#111" stroke-width="0.7" />
<line x1="475.92" y1="4.40" x2="475.92" y2="6.30" stroke="#111" stroke-width="0.7" />
<line x1="483.64" y1="176.40" x2="483.64" y2="174.50" stroke="#111" stroke-width="0.7" />
<line x1="483.64" y1="4.40" x2="483.64" y2="6.30" stroke="#111" stroke-width="0.7" />
<line x1="491.36" y1="176.40" x2="491.36" y2="174.50" stroke="#111" stroke-width="0.7" />
<line x1="491.36" y1="4.40" x2="491.36" y2="6.30" stroke="#111" stroke-width="0.7" />
<line x1="499.08" y1="176.40" x2="499.08" y2="174.50" stroke="#111" stroke-width="0.7" />
<line x1="499.08" y1="4.40" x2="499.08" y2="6.30" stroke="#111" stroke-width="0.7" />
<line x1="506.80" y1="176.40" x2="506.80" y2="173.00" stroke="#111" stroke-width="0.75" />
<line x1="506.80" y1="4.40" x2="506.80" y2="7.80" stroke="#111" stroke-width="0.75" />
<line x1="514.52" y1="176.40" x2="514.52" y2="174.50" stroke="#111" stroke-width="0.7" />
<line x1="514.52" y1="4.40" x2="514.52" y2="6.30" stroke="#111" stroke-width="0.7" />
<line x1="522.24" y1="176.40" x2="522.24" y2="174.50" stroke="#111" stroke-width="0.7" />
<line x1="522.24" y1="4.40" x2="522.24" y2="6.30" stroke="#111" stroke-width="0.7" />
<line x1="529.96" y1="176.40" x2="529.96" y2="174.50" stroke="#111" stroke-width="0.7" />
<line x1="529.96" y1="4.40" x2="529.96" y2="6.30" stroke="#111" stroke-width="0.7" />
<line x1="537.68" y1="176.40" x2="537.68" y2="174.50" stroke="#111" stroke-width="0.7" />
<line x1="537.68" y1="4.40" x2="537.68" y2="6.30" stroke="#111" stroke-width="0.7" />
<line x1="545.40" y1="176.40" x2="545.40" y2="173.00" stroke="#111" stroke-width="0.75" />
<line x1="545.40" y1="4.40" x2="545.40" y2="7.80" stroke="#111" stroke-width="0.75" />
<line x1="553.12" y1="176.40" x2="553.12" y2="174.50" stroke="#111" stroke-width="0.7" />
<line x1="553.12" y1="4.40" x2="553.12" y2="6.30" stroke="#111" stroke-width="0.7" />
<line x1="560.84" y1="176.40" x2="560.84" y2="174.50" stroke="#111" stroke-width="0.7" />
<line x1="560.84" y1="4.40" x2="560.84" y2="6.30" stroke="#111" stroke-width="0.7" />
<line x1="568.56" y1="176.40" x2="568.56" y2="174.50" stroke="#111" stroke-width="0.7" />
<line x1="568.56" y1="4.40" x2="568.56" y2="6.30" stroke="#111" stroke-width="0.7" />
<line x1="576.28" y1="176.40" x2="576.28" y2="174.50" stroke="#111" stroke-width="0.7" />
<line x1="576.28" y1="4.40" x2="576.28" y2="6.30" stroke="#111" stroke-width="0.7" />
<line x1="584.00" y1="176.40" x2="584.00" y2="173.00" stroke="#111" stroke-width="0.75" />
<line x1="584.00" y1="4.40" x2="584.00" y2="7.80" stroke="#111" stroke-width="0.75" />
<line x1="591.72" y1="176.40" x2="591.72" y2="174.50" stroke="#111" stroke-width="0.7" />
<line x1="591.72" y1="4.40" x2="591.72" y2="6.30" stroke="#111" stroke-width="0.7" />
<line x1="599.44" y1="176.40" x2="599.44" y2="174.50" stroke="#111" stroke-width="0.7" />
<line x1="599.44" y1="4.40" x2="599.44" y2="6.30" stroke="#111" stroke-width="0.7" />
<line x1="607.16" y1="176.40" x2="607.16" y2="174.50" stroke="#111" stroke-width="0.7" />
<line x1="607.16" y1="4.40" x2="607.16" y2="6.30" stroke="#111" stroke-width="0.7" />
<line x1="614.88" y1="176.40" x2="614.88" y2="174.50" stroke="#111" stroke-width="0.7" />
<line x1="614.88" y1="4.40" x2="614.88" y2="6.30" stroke="#111" stroke-width="0.7" />
<line x1="622.60" y1="176.40" x2="622.60" y2="173.00" stroke="#111" stroke-width="0.75" />
<line x1="622.60" y1="4.40" x2="622.60" y2="7.80" stroke="#111" stroke-width="0.75" />
<line x1="391.00" y1="176.40" x2="394.40" y2="176.40" stroke="#111" stroke-width="0.75" />
<line x1="622.60" y1="176.40" x2="619.20" y2="176.40" stroke="#111" stroke-width="0.75" />
<line x1="391.00" y1="172.10" x2="392.90" y2="172.10" stroke="#111" stroke-width="0.7" />
<line x1="622.60" y1="172.10" x2="620.70" y2="172.10" stroke="#111" stroke-width="0.7" />
<line x1="391.00" y1="167.80" x2="392.90" y2="167.80" stroke="#111" stroke-width="0.7" />
<line x1="622.60" y1="167.80" x2="620.70" y2="167.80" stroke="#111" stroke-width="0.7" />
<line x1="391.00" y1="163.50" x2="392.90" y2="163.50" stroke="#111" stroke-width="0.7" />
<line x1="622.60" y1="163.50" x2="620.70" y2="163.50" stroke="#111" stroke-width="0.7" />
<line x1="391.00" y1="159.20" x2="392.90" y2="159.20" stroke="#111" stroke-width="0.7" />
<line x1="622.60" y1="159.20" x2="620.70" y2="159.20" stroke="#111" stroke-width="0.7" />
<line x1="391.00" y1="154.90" x2="394.40" y2="154.90" stroke="#111" stroke-width="0.75" />
<line x1="622.60" y1="154.90" x2="619.20" y2="154.90" stroke="#111" stroke-width="0.75" />
<line x1="391.00" y1="150.60" x2="392.90" y2="150.60" stroke="#111" stroke-width="0.7" />
<line x1="622.60" y1="150.60" x2="620.70" y2="150.60" stroke="#111" stroke-width="0.7" />
<line x1="391.00" y1="146.30" x2="392.90" y2="146.30" stroke="#111" stroke-width="0.7" />
<line x1="622.60" y1="146.30" x2="620.70" y2="146.30" stroke="#111" stroke-width="0.7" />
<line x1="391.00" y1="142.00" x2="392.90" y2="142.00" stroke="#111" stroke-width="0.7" />
<line x1="622.60" y1="142.00" x2="620.70" y2="142.00" stroke="#111" stroke-width="0.7" />
<line x1="391.00" y1="137.70" x2="392.90" y2="137.70" stroke="#111" stroke-width="0.7" />
<line x1="622.60" y1="137.70" x2="620.70" y2="137.70" stroke="#111" stroke-width="0.7" />
<line x1="391.00" y1="133.40" x2="394.40" y2="133.40" stroke="#111" stroke-width="0.75" />
<line x1="622.60" y1="133.40" x2="619.20" y2="133.40" stroke="#111" stroke-width="0.75" />
<line x1="391.00" y1="129.10" x2="392.90" y2="129.10" stroke="#111" stroke-width="0.7" />
<line x1="622.60" y1="129.10" x2="620.70" y2="129.10" stroke="#111" stroke-width="0.7" />
<line x1="391.00" y1="124.80" x2="392.90" y2="124.80" stroke="#111" stroke-width="0.7" />
<line x1="622.60" y1="124.80" x2="620.70" y2="124.80" stroke="#111" stroke-width="0.7" />
<line x1="391.00" y1="120.50" x2="392.90" y2="120.50" stroke="#111" stroke-width="0.7" />
<line x1="622.60" y1="120.50" x2="620.70" y2="120.50" stroke="#111" stroke-width="0.7" />
<line x1="391.00" y1="116.20" x2="392.90" y2="116.20" stroke="#111" stroke-width="0.7" />
<line x1="622.60" y1="116.20" x2="620.70" y2="116.20" stroke="#111" stroke-width="0.7" />
<line x1="391.00" y1="111.90" x2="394.40" y2="111.90" stroke="#111" stroke-width="0.75" />
<line x1="622.60" y1="111.90" x2="619.20" y2="111.90" stroke="#111" stroke-width="0.75" />
<line x1="391.00" y1="107.60" x2="392.90" y2="107.60" stroke="#111" stroke-width="0.7" />
<line x1="622.60" y1="107.60" x2="620.70" y2="107.60" stroke="#111" stroke-width="0.7" />
<line x1="391.00" y1="103.30" x2="392.90" y2="103.30" stroke="#111" stroke-width="0.7" />
<line x1="622.60" y1="103.30" x2="620.70" y2="103.30" stroke="#111" stroke-width="0.7" />
<line x1="391.00" y1="99.00" x2="392.90" y2="99.00" stroke="#111" stroke-width="0.7" />
<line x1="622.60" y1="99.00" x2="620.70" y2="99.00" stroke="#111" stroke-width="0.7" />
<line x1="391.00" y1="94.70" x2="392.90" y2="94.70" stroke="#111" stroke-width="0.7" />
<line x1="622.60" y1="94.70" x2="620.70" y2="94.70" stroke="#111" stroke-width="0.7" />
<line x1="391.00" y1="90.40" x2="394.40" y2="90.40" stroke="#111" stroke-width="0.75" />
<line x1="622.60" y1="90.40" x2="619.20" y2="90.40" stroke="#111" stroke-width="0.75" />
<line x1="391.00" y1="86.10" x2="392.90" y2="86.10" stroke="#111" stroke-width="0.7" />
<line x1="622.60" y1="86.10" x2="620.70" y2="86.10" stroke="#111" stroke-width="0.7" />
<line x1="391.00" y1="81.80" x2="392.90" y2="81.80" stroke="#111" stroke-width="0.7" />
<line x1="622.60" y1="81.80" x2="620.70" y2="81.80" stroke="#111" stroke-width="0.7" />
<line x1="391.00" y1="77.50" x2="392.90" y2="77.50" stroke="#111" stroke-width="0.7" />
<line x1="622.60" y1="77.50" x2="620.70" y2="77.50" stroke="#111" stroke-width="0.7" />
<line x1="391.00" y1="73.20" x2="392.90" y2="73.20" stroke="#111" stroke-width="0.7" />
<line x1="622.60" y1="73.20" x2="620.70" y2="73.20" stroke="#111" stroke-width="0.7" />
<line x1="391.00" y1="68.90" x2="394.40" y2="68.90" stroke="#111" stroke-width="0.75" />
<line x1="622.60" y1="68.90" x2="619.20" y2="68.90" stroke="#111" stroke-width="0.75" />
<line x1="391.00" y1="64.60" x2="392.90" y2="64.60" stroke="#111" stroke-width="0.7" />
<line x1="622.60" y1="64.60" x2="620.70" y2="64.60" stroke="#111" stroke-width="0.7" />
<line x1="391.00" y1="60.30" x2="392.90" y2="60.30" stroke="#111" stroke-width="0.7" />
<line x1="622.60" y1="60.30" x2="620.70" y2="60.30" stroke="#111" stroke-width="0.7" />
<line x1="391.00" y1="56.00" x2="392.90" y2="56.00" stroke="#111" stroke-width="0.7" />
<line x1="622.60" y1="56.00" x2="620.70" y2="56.00" stroke="#111" stroke-width="0.7" />
<line x1="391.00" y1="51.70" x2="392.90" y2="51.70" stroke="#111" stroke-width="0.7" />
<line x1="622.60" y1="51.70" x2="620.70" y2="51.70" stroke="#111" stroke-width="0.7" />
<line x1="391.00" y1="47.40" x2="394.40" y2="47.40" stroke="#111" stroke-width="0.75" />
<line x1="622.60" y1="47.40" x2="619.20" y2="47.40" stroke="#111" stroke-width="0.75" />
<line x1="391.00" y1="43.10" x2="392.90" y2="43.10" stroke="#111" stroke-width="0.7" />
<line x1="622.60" y1="43.10" x2="620.70" y2="43.10" stroke="#111" stroke-width="0.7" />
<line x1="391.00" y1="38.80" x2="392.90" y2="38.80" stroke="#111" stroke-width="0.7" />
<line x1="622.60" y1="38.80" x2="620.70" y2="38.80" stroke="#111" stroke-width="0.7" />
<line x1="391.00" y1="34.50" x2="392.90" y2="34.50" stroke="#111" stroke-width="0.7" />
<line x1="622.60" y1="34.50" x2="620.70" y2="34.50" stroke="#111" stroke-width="0.7" />
<line x1="391.00" y1="30.20" x2="392.90" y2="30.20" stroke="#111" stroke-width="0.7" />
<line x1="622.60" y1="30.20" x2="620.70" y2="30.20" stroke="#111" stroke-width="0.7" />
<line x1="391.00" y1="25.90" x2="394.40" y2="25.90" stroke="#111" stroke-width="0.75" />
<line x1="622.60" y1="25.90" x2="619.20" y2="25.90" stroke="#111" stroke-width="0.75" />
<line x1="391.00" y1="21.60" x2="392.90" y2="21.60" stroke="#111" stroke-width="0.7" />
<line x1="622.60" y1="21.60" x2="620.70" y2="21.60" stroke="#111" stroke-width="0.7" />
<line x1="391.00" y1="17.30" x2="392.90" y2="17.30" stroke="#111" stroke-width="0.7" />
<line x1="622.60" y1="17.30" x2="620.70" y2="17.30" stroke="#111" stroke-width="0.7" />
<line x1="391.00" y1="13.00" x2="392.90" y2="13.00" stroke="#111" stroke-width="0.7" />
<line x1="622.60" y1="13.00" x2="620.70" y2="13.00" stroke="#111" stroke-width="0.7" />
<line x1="391.00" y1="8.70" x2="392.90" y2="8.70" stroke="#111" stroke-width="0.7" />
<line x1="622.60" y1="8.70" x2="620.70" y2="8.70" stroke="#111" stroke-width="0.7" />
<line x1="391.00" y1="4.40" x2="394.40" y2="4.40" stroke="#111" stroke-width="0.75" />
<line x1="622.60" y1="4.40" x2="619.20" y2="4.40" stroke="#111" stroke-width="0.75" />
<text x="391.00" y="186.20" font-size="9.4" text-anchor="middle" fill="#1a1a1a" stroke="#1a1a1a" font-weight="normal" >32.0</text>
<text x="429.60" y="186.20" font-size="9.4" text-anchor="middle" fill="#1a1a1a" stroke="#1a1a1a" font-weight="normal" >32.5</text>
<text x="468.20" y="186.20" font-size="9.4" text-anchor="middle" fill="#1a1a1a" stroke="#1a1a1a" font-weight="normal" >33.0</text>
<text x="506.80" y="186.20" font-size="9.4" text-anchor="middle" fill="#1a1a1a" stroke="#1a1a1a" font-weight="normal" >33.5</text>
<text x="545.40" y="186.20" font-size="9.4" text-anchor="middle" fill="#1a1a1a" stroke="#1a1a1a" font-weight="normal" >34.0</text>
<text x="584.00" y="186.20" font-size="9.4" text-anchor="middle" fill="#1a1a1a" stroke="#1a1a1a" font-weight="normal" >34.5</text>
<text x="622.60" y="186.20" font-size="9.4" text-anchor="middle" fill="#1a1a1a" stroke="#1a1a1a" font-weight="normal" >35.0</text>
<text x="387.30" y="179.60" font-size="9.4" text-anchor="end" fill="#1a1a1a" stroke="#1a1a1a" font-weight="normal" >2.0</text>
<line x1="368.59" y1="176.69" x2="374.42" y2="176.69" stroke="#1a1a1a" stroke-width="0.7" />
<text x="387.30" y="158.10" font-size="9.4" text-anchor="end" fill="#1a1a1a" stroke="#1a1a1a" font-weight="normal" >1.5</text>
<line x1="368.59" y1="155.19" x2="374.42" y2="155.19" stroke="#1a1a1a" stroke-width="0.7" />
<text x="387.30" y="136.60" font-size="9.4" text-anchor="end" fill="#1a1a1a" stroke="#1a1a1a" font-weight="normal" >1.0</text>
<line x1="368.59" y1="133.69" x2="374.42" y2="133.69" stroke="#1a1a1a" stroke-width="0.7" />
<text x="387.30" y="115.10" font-size="9.4" text-anchor="end" fill="#1a1a1a" stroke="#1a1a1a" font-weight="normal" >0.5</text>
<line x1="368.59" y1="112.19" x2="374.42" y2="112.19" stroke="#1a1a1a" stroke-width="0.7" />
<text x="387.30" y="93.60" font-size="9.4" text-anchor="end" fill="#1a1a1a" stroke="#1a1a1a" font-weight="normal" >0.0</text>
<text x="387.30" y="72.10" font-size="9.4" text-anchor="end" fill="#1a1a1a" stroke="#1a1a1a" font-weight="normal" >0.5</text>
<text x="387.30" y="50.60" font-size="9.4" text-anchor="end" fill="#1a1a1a" stroke="#1a1a1a" font-weight="normal" >1.0</text>
<text x="387.30" y="29.10" font-size="9.4" text-anchor="end" fill="#1a1a1a" stroke="#1a1a1a" font-weight="normal" >1.5</text>
<text x="387.30" y="7.60" font-size="9.4" text-anchor="end" fill="#1a1a1a" stroke="#1a1a1a" font-weight="normal" >2.0</text>
<text x="506.80" y="199.00" font-size="10.0" text-anchor="middle" fill="#1a1a1a" stroke="#1a1a1a" font-weight="normal" >Salinity (psu)</text>
<text transform="translate(363.50,90.40) rotate(-90)" font-size="10.0" text-anchor="middle" fill="#1a1a1a" stroke="#1a1a1a">Temperature (°C)</text>
<text x="546.80" y="24.40" font-size="15" text-anchor="start" fill="#000" stroke="#000" font-weight="bold" >2015-2020</text>
<text x="594.60" y="167.60" font-size="15" text-anchor="start" fill="#111" stroke="#111" font-weight="normal" >(b)</text>
<linearGradient id="gcb" x1="0" y1="1" x2="0" y2="0">
<stop offset="0.0000" stop-color="#440154"/>
<stop offset="0.0250" stop-color="#461264"/>
<stop offset="0.0500" stop-color="#482475"/>
<stop offset="0.0750" stop-color="#44347e"/>
<stop offset="0.1000" stop-color="#414487"/>
<stop offset="0.1250" stop-color="#3b528a"/>
<stop offset="0.1500" stop-color="#355f8d"/>
<stop offset="0.1750" stop-color="#306c8e"/>
<stop offset="0.2000" stop-color="#2a788e"/>
<stop offset="0.2250" stop-color="#26848d"/>
<stop offset="0.2500" stop-color="#21918c"/>
<stop offset="0.2750" stop-color="#229c88"/>
<stop offset="0.3000" stop-color="#22a884"/>
<stop offset="0.3250" stop-color="#33b47a"/>
<stop offset="0.3500" stop-color="#44bf70"/>
<stop offset="0.3750" stop-color="#5fc860"/>
<stop offset="0.4000" stop-color="#7ad151"/>
<stop offset="0.4250" stop-color="#9bd83c"/>
<stop offset="0.4500" stop-color="#bddf26"/>
<stop offset="0.4750" stop-color="#dde326"/>
<stop offset="0.5000" stop-color="#fde725"/>
<stop offset="0.5017" stop-color="#e7ff89"/>
<stop offset="0.5400" stop-color="#eff96f"/>
<stop offset="0.5783" stop-color="#f6f355"/>
<stop offset="0.6167" stop-color="#fded3b"/>
<stop offset="0.6550" stop-color="#ffe230"/>
<stop offset="0.6933" stop-color="#ffd629"/>
<stop offset="0.7317" stop-color="#ffca22"/>
<stop offset="0.7700" stop-color="#ffc11f"/>
<stop offset="0.8083" stop-color="#ffb91f"/>
<stop offset="0.8467" stop-color="#ffb21f"/>
<stop offset="0.8850" stop-color="#ffa91f"/>
<stop offset="0.9233" stop-color="#fea01f"/>
<stop offset="0.9617" stop-color="#fd971f"/>
<stop offset="1.0000" stop-color="#fc8e1f"/>
<stop offset="1" stop-color="#fc8e1f"/>
</linearGradient>
<rect x="636.7" y="4.4" width="9.199999999999932" height="172.0" fill="url(#gcb)" stroke="#333" stroke-width="0.6"/>
<line x1="645.90" y1="176.40" x2="643.10" y2="176.40" stroke="#111" stroke-width="0.8" />
<text x="649.10" y="179.40" font-size="9.4" text-anchor="start" fill="#1a1a1a" stroke="#1a1a1a" font-weight="normal" >0</text>
<line x1="645.90" y1="170.67" x2="644.40" y2="170.67" stroke="#111" stroke-width="0.7" />
<line x1="645.90" y1="164.93" x2="644.40" y2="164.93" stroke="#111" stroke-width="0.7" />
<line x1="645.90" y1="159.20" x2="644.40" y2="159.20" stroke="#111" stroke-width="0.7" />
<line x1="645.90" y1="153.47" x2="644.40" y2="153.47" stroke="#111" stroke-width="0.7" />
<line x1="645.90" y1="147.73" x2="643.10" y2="147.73" stroke="#111" stroke-width="0.8" />
<text x="649.10" y="150.73" font-size="9.4" text-anchor="start" fill="#1a1a1a" stroke="#1a1a1a" font-weight="normal" >100</text>
<line x1="645.90" y1="142.00" x2="644.40" y2="142.00" stroke="#111" stroke-width="0.7" />
<line x1="645.90" y1="136.27" x2="644.40" y2="136.27" stroke="#111" stroke-width="0.7" />
<line x1="645.90" y1="130.53" x2="644.40" y2="130.53" stroke="#111" stroke-width="0.7" />
<line x1="645.90" y1="124.80" x2="644.40" y2="124.80" stroke="#111" stroke-width="0.7" />
<line x1="645.90" y1="119.07" x2="643.10" y2="119.07" stroke="#111" stroke-width="0.8" />
<text x="649.10" y="122.07" font-size="9.4" text-anchor="start" fill="#1a1a1a" stroke="#1a1a1a" font-weight="normal" >200</text>
<line x1="645.90" y1="113.33" x2="644.40" y2="113.33" stroke="#111" stroke-width="0.7" />
<line x1="645.90" y1="107.60" x2="644.40" y2="107.60" stroke="#111" stroke-width="0.7" />
<line x1="645.90" y1="101.87" x2="644.40" y2="101.87" stroke="#111" stroke-width="0.7" />
<line x1="645.90" y1="96.13" x2="644.40" y2="96.13" stroke="#111" stroke-width="0.7" />
<line x1="645.90" y1="90.40" x2="643.10" y2="90.40" stroke="#111" stroke-width="0.8" />
<text x="649.10" y="93.40" font-size="9.4" text-anchor="start" fill="#1a1a1a" stroke="#1a1a1a" font-weight="normal" >300</text>
<line x1="645.90" y1="84.67" x2="644.40" y2="84.67" stroke="#111" stroke-width="0.7" />
<line x1="645.90" y1="78.93" x2="644.40" y2="78.93" stroke="#111" stroke-width="0.7" />
<line x1="645.90" y1="73.20" x2="644.40" y2="73.20" stroke="#111" stroke-width="0.7" />
<line x1="645.90" y1="67.47" x2="644.40" y2="67.47" stroke="#111" stroke-width="0.7" />
<line x1="645.90" y1="61.73" x2="643.10" y2="61.73" stroke="#111" stroke-width="0.8" />
<text x="649.10" y="64.73" font-size="9.4" text-anchor="start" fill="#1a1a1a" stroke="#1a1a1a" font-weight="normal" >400</text>
<line x1="645.90" y1="56.00" x2="644.40" y2="56.00" stroke="#111" stroke-width="0.7" />
<line x1="645.90" y1="50.27" x2="644.40" y2="50.27" stroke="#111" stroke-width="0.7" />
<line x1="645.90" y1="44.53" x2="644.40" y2="44.53" stroke="#111" stroke-width="0.7" />
<line x1="645.90" y1="38.80" x2="644.40" y2="38.80" stroke="#111" stroke-width="0.7" />
<line x1="645.90" y1="33.07" x2="643.10" y2="33.07" stroke="#111" stroke-width="0.8" />
<text x="649.10" y="36.07" font-size="9.4" text-anchor="start" fill="#1a1a1a" stroke="#1a1a1a" font-weight="normal" >500</text>
<line x1="645.90" y1="27.33" x2="644.40" y2="27.33" stroke="#111" stroke-width="0.7" />
<line x1="645.90" y1="21.60" x2="644.40" y2="21.60" stroke="#111" stroke-width="0.7" />
<line x1="645.90" y1="15.87" x2="644.40" y2="15.87" stroke="#111" stroke-width="0.7" />
<line x1="645.90" y1="10.13" x2="644.40" y2="10.13" stroke="#111" stroke-width="0.7" />
<line x1="645.90" y1="4.40" x2="643.10" y2="4.40" stroke="#111" stroke-width="0.8" />
<text x="649.10" y="7.40" font-size="9.4" text-anchor="start" fill="#1a1a1a" stroke="#1a1a1a" font-weight="normal" >600</text>
<text transform="translate(673.10,90.40) rotate(-90)" font-size="10.0" text-anchor="middle" fill="#1a1a1a" stroke="#1a1a1a">Depth (m)</text>
<clipPath id="cc"><rect x="60.6" y="268.8" width="562.6" height="155.89999999999998"/></clipPath>
<g clip-path="url(#cc)">
<path d="M86.4,346.8 L105.3,390.5 L124.2,396.0 L143.2,314.8 L162.1,352.5 L181.1,278.2 L200.0,334.3 L218.9,309.0 L237.9,302.0 L256.8,371.8 L275.8,303.0 L294.7,355.5 L313.6,366.0 L332.6,299.3 L351.5,317.6 L370.5,290.5 L389.4,313.0 L408.4,277.8 L427.3,340.6 L446.2,323.0 L465.2,351.8 L484.1,331.8 L503.1,418.0 L522.0,343.0 L540.9,324.3 L559.9,323.7 L578.8,342.8 L597.8,296.0" fill="none" stroke="#7b7b7b" stroke-width="2.2" stroke-linejoin="miter" stroke-miterlimit="6" stroke-dasharray="7.6,3.3"/>
<path d="M86.4,353.7 L105.3,373.0 L124.2,349.6 L143.2,397.0 L162.1,335.0 L181.1,311.2 L200.0,329.0 L218.9,342.0 L237.9,300.0 L256.8,406.8 L275.8,301.6 L294.7,326.8 L313.6,418.0 L332.6,329.3 L351.5,321.8 L370.5,325.5 L389.4,315.0 L408.4,330.5 L427.3,334.3 L446.2,371.8 L465.2,333.5 L484.1,383.5 L503.1,388.0 L522.0,380.0 L540.9,284.3 L559.9,314.3 L578.8,338.5 L597.8,299.0" fill="none" stroke="#2b8282" stroke-width="1.9" stroke-linejoin="miter" stroke-miterlimit="6"/>
<path d="M86.4,357.0 L105.3,372.5 L124.2,344.5 L143.2,398.0 L162.1,337.2 L181.1,314.0 L200.0,329.0 L218.9,342.0 L237.9,298.4 L256.8,401.8 L275.8,304.8 L294.7,326.8 L313.6,413.0 L332.6,329.3 L351.5,323.5 L370.5,327.5 L389.4,317.5 L408.4,332.0 L427.3,335.5 L446.2,374.3 L465.2,335.0 L484.1,384.3 L503.1,386.8 L522.0,376.8 L540.9,286.8 L559.9,312.5 L578.8,338.0 L597.8,300.0" fill="none" stroke="#98f598" stroke-width="2.2" stroke-linejoin="miter" stroke-miterlimit="6"/>
<path d="M86.4,358.1 L105.3,371.5 L124.2,346.7 L143.2,399.0 L162.1,342.3 L181.1,316.5 L200.0,328.7 L218.9,342.2 L237.9,299.6 L256.8,395.5 L275.8,307.3 L294.7,326.8 L313.6,408.0 L332.6,330.0 L351.5,326.0 L370.5,329.5 L389.4,321.0 L408.4,334.3 L427.3,336.8 L446.2,379.3 L465.2,336.8 L484.1,385.5 L503.1,387.5 L522.0,370.5 L540.9,285.0 L559.9,304.3 L578.8,336.0 L597.8,297.3" fill="none" stroke="#2f8c22" stroke-width="2.0" stroke-linejoin="miter" stroke-miterlimit="6"/>
<path d="M86.4,365.7 L105.3,369.8 L124.2,340.1 L143.2,396.0 L162.1,348.2 L181.1,324.0 L200.0,329.9 L218.9,343.2 L237.9,297.2 L256.8,384.3 L275.8,318.0 L294.7,325.0 L313.6,381.8 L332.6,321.8 L351.5,328.0 L370.5,341.8 L389.4,333.5 L408.4,340.5 L427.3,346.0 L446.2,388.0 L465.2,348.0 L484.1,391.8 L503.1,383.5 L522.0,364.3 L540.9,293.0 L559.9,291.0 L578.8,319.3 L597.8,305.0" fill="none" stroke="#35f535" stroke-width="1.7" stroke-linejoin="miter" stroke-miterlimit="6"/>
<path d="M86.4,365.7 L105.3,359.1 L124.2,333.9 L143.2,394.0 L162.1,351.1 L181.1,331.4 L200.0,335.5 L218.9,349.6 L237.9,296.4 L256.8,378.0 L275.8,328.0 L294.7,323.5 L313.6,359.3 L332.6,319.3 L351.5,330.5 L370.5,353.0 L389.4,349.8 L408.4,355.5 L427.3,363.5 L446.2,391.8 L465.2,349.3 L484.1,395.5 L503.1,380.5 L522.0,358.0 L540.9,293.5 L559.9,285.5 L578.8,304.3 L597.8,316.5" fill="none" stroke="#46f40e" stroke-width="1.9" stroke-linejoin="miter" stroke-miterlimit="6"/>
<path d="M86.4,355.9 L105.3,346.4 L124.2,329.9 L143.2,391.0 L162.1,353.3 L181.1,336.8 L200.0,342.6 L218.9,355.2 L237.9,304.4 L256.8,374.0 L275.8,335.5 L294.7,325.0 L313.6,352.0 L332.6,303.9 L351.5,329.5 L370.5,355.5 L389.4,358.5 L408.4,370.5 L427.3,370.0 L446.2,391.0 L465.2,347.5 L484.1,381.0 L503.1,376.8 L522.0,355.5 L540.9,296.8 L559.9,282.5 L578.8,295.5 L597.8,311.8" fill="none" stroke="#ffb6c8" stroke-width="1.8" stroke-linejoin="miter" stroke-miterlimit="6"/>
<path d="M86.4,347.4 L105.3,339.1 L124.2,326.3 L143.2,390.0 L162.1,355.2 L181.1,338.8 L200.0,346.2 L218.9,357.3 L237.9,307.0 L256.8,374.0 L275.8,341.8 L294.7,328.0 L313.6,351.5 L332.6,304.9 L351.5,329.5 L370.5,352.0 L389.4,358.5 L408.4,376.0 L427.3,373.0 L446.2,390.5 L465.2,349.5 L484.1,379.5 L503.1,375.0 L522.0,353.5 L540.9,297.8 L559.9,280.5 L578.8,291.8 L597.8,305.0" fill="none" stroke="#d46bf2" stroke-width="1.7" stroke-linejoin="miter" stroke-miterlimit="6"/>
<path d="M86.4,338.7 L105.3,329.2 L124.2,320.4 L143.2,389.0 L162.1,357.7 L181.1,340.6 L200.0,348.8 L218.9,360.0 L237.9,310.8 L256.8,374.0 L275.8,346.8 L294.7,330.5 L313.6,350.5 L332.6,309.9 L351.5,329.5 L370.5,350.0 L389.4,358.5 L408.4,380.0 L427.3,376.8 L446.2,390.5 L465.2,352.3 L484.1,379.0 L503.1,374.5 L522.0,353.0 L540.9,298.5 L559.9,278.0 L578.8,285.0 L597.8,297.8" fill="none" stroke="#800a86" stroke-width="2.1" stroke-linejoin="miter" stroke-miterlimit="6"/>
<path d="M86.4,334.8 L105.3,326.4 L124.2,318.1 L143.2,388.4 L162.1,358.3 L181.1,341.8 L200.0,350.1 L218.9,361.4 L237.9,313.4 L256.8,373.1 L275.8,348.3 L294.7,331.6 L313.6,351.6 L332.6,307.6 L351.5,329.3 L370.5,348.7 L389.4,358.5 L408.4,382.6 L427.3,379.0 L446.2,390.5 L465.2,351.9 L484.1,378.1 L503.1,373.6 L522.0,351.9 L540.9,299.2 L559.9,276.2 L578.8,281.5 L597.8,294.3" fill="none" stroke="#e3a0ee" stroke-width="1.7" stroke-linejoin="miter" stroke-miterlimit="6"/>
<path d="M86.4,334.3 L105.3,326.0 L124.2,317.8 L143.2,388.3 L162.1,358.4 L181.1,342.0 L200.0,350.3 L218.9,361.6 L237.9,313.8 L256.8,373.0 L275.8,348.5 L294.7,331.8 L313.6,351.8 L332.6,307.3 L351.5,329.3 L370.5,348.5 L389.4,358.5 L408.4,383.0 L427.3,379.3 L446.2,390.5 L465.2,351.8 L484.1,378.0 L503.1,373.5 L522.0,351.8 L540.9,299.3 L559.9,276.0 L578.8,281.0 L597.8,293.8" fill="none" stroke="#c52be6" stroke-width="2.4" stroke-linejoin="miter" stroke-miterlimit="6"/>
</g>
<rect x="60.6" y="268.8" width="562.6" height="155.89999999999998" fill="none" stroke="#1a1a1a" stroke-width="1.0"/>
<line x1="67.43" y1="424.70" x2="67.43" y2="422.00" stroke="#1a1a1a" stroke-width="0.8" />
<line x1="67.43" y1="268.80" x2="67.43" y2="271.50" stroke="#1a1a1a" stroke-width="0.8" />
<line x1="86.37" y1="424.70" x2="86.37" y2="422.00" stroke="#1a1a1a" stroke-width="0.8" />
<line x1="86.37" y1="268.80" x2="86.37" y2="271.50" stroke="#1a1a1a" stroke-width="0.8" />
<line x1="105.31" y1="424.70" x2="105.31" y2="422.00" stroke="#1a1a1a" stroke-width="0.8" />
<line x1="105.31" y1="268.80" x2="105.31" y2="271.50" stroke="#1a1a1a" stroke-width="0.8" />
<line x1="124.25" y1="424.70" x2="124.25" y2="418.80" stroke="#1a1a1a" stroke-width="1.0" />
<line x1="124.25" y1="268.80" x2="124.25" y2="274.70" stroke="#1a1a1a" stroke-width="1.0" />
<text x="124.25" y="443.30" font-size="15.6" text-anchor="middle" fill="#1a1a1a" stroke="#1a1a1a" font-weight="normal" letter-spacing="0.15">1995</text>
<line x1="143.19" y1="424.70" x2="143.19" y2="422.00" stroke="#1a1a1a" stroke-width="0.8" />
<line x1="143.19" y1="268.80" x2="143.19" y2="271.50" stroke="#1a1a1a" stroke-width="0.8" />
<line x1="162.13" y1="424.70" x2="162.13" y2="422.00" stroke="#1a1a1a" stroke-width="0.8" />
<line x1="162.13" y1="268.80" x2="162.13" y2="271.50" stroke="#1a1a1a" stroke-width="0.8" />
<line x1="181.07" y1="424.70" x2="181.07" y2="422.00" stroke="#1a1a1a" stroke-width="0.8" />
<line x1="181.07" y1="268.80" x2="181.07" y2="271.50" stroke="#1a1a1a" stroke-width="0.8" />
<line x1="200.01" y1="424.70" x2="200.01" y2="422.00" stroke="#1a1a1a" stroke-width="0.8" />
<line x1="200.01" y1="268.80" x2="200.01" y2="271.50" stroke="#1a1a1a" stroke-width="0.8" />
<line x1="218.95" y1="424.70" x2="218.95" y2="418.80" stroke="#1a1a1a" stroke-width="1.0" />
<line x1="218.95" y1="268.80" x2="218.95" y2="274.70" stroke="#1a1a1a" stroke-width="1.0" />
<text x="218.95" y="443.30" font-size="15.6" text-anchor="middle" fill="#1a1a1a" stroke="#1a1a1a" font-weight="normal" letter-spacing="0.15">2000</text>
<line x1="237.89" y1="424.70" x2="237.89" y2="422.00" stroke="#1a1a1a" stroke-width="0.8" />
<line x1="237.89" y1="268.80" x2="237.89" y2="271.50" stroke="#1a1a1a" stroke-width="0.8" />
<line x1="256.83" y1="424.70" x2="256.83" y2="422.00" stroke="#1a1a1a" stroke-width="0.8" />
<line x1="256.83" y1="268.80" x2="256.83" y2="271.50" stroke="#1a1a1a" stroke-width="0.8" />
<line x1="275.77" y1="424.70" x2="275.77" y2="422.00" stroke="#1a1a1a" stroke-width="0.8" />
<line x1="275.77" y1="268.80" x2="275.77" y2="271.50" stroke="#1a1a1a" stroke-width="0.8" />
<line x1="294.71" y1="424.70" x2="294.71" y2="422.00" stroke="#1a1a1a" stroke-width="0.8" />
<line x1="294.71" y1="268.80" x2="294.71" y2="271.50" stroke="#1a1a1a" stroke-width="0.8" />
<line x1="313.65" y1="424.70" x2="313.65" y2="418.80" stroke="#1a1a1a" stroke-width="1.0" />
<line x1="313.65" y1="268.80" x2="313.65" y2="274.70" stroke="#1a1a1a" stroke-width="1.0" />
<text x="313.65" y="443.30" font-size="15.6" text-anchor="middle" fill="#1a1a1a" stroke="#1a1a1a" font-weight="normal" letter-spacing="0.15">2005</text>
<line x1="332.59" y1="424.70" x2="332.59" y2="422.00" stroke="#1a1a1a" stroke-width="0.8" />
<line x1="332.59" y1="268.80" x2="332.59" y2="271.50" stroke="#1a1a1a" stroke-width="0.8" />
<line x1="351.53" y1="424.70" x2="351.53" y2="422.00" stroke="#1a1a1a" stroke-width="0.8" />
<line x1="351.53" y1="268.80" x2="351.53" y2="271.50" stroke="#1a1a1a" stroke-width="0.8" />
<line x1="370.47" y1="424.70" x2="370.47" y2="422.00" stroke="#1a1a1a" stroke-width="0.8" />
<line x1="370.47" y1="268.80" x2="370.47" y2="271.50" stroke="#1a1a1a" stroke-width="0.8" />
<line x1="389.41" y1="424.70" x2="389.41" y2="422.00" stroke="#1a1a1a" stroke-width="0.8" />
<line x1="389.41" y1="268.80" x2="389.41" y2="271.50" stroke="#1a1a1a" stroke-width="0.8" />
<line x1="408.35" y1="424.70" x2="408.35" y2="418.80" stroke="#1a1a1a" stroke-width="1.0" />
<line x1="408.35" y1="268.80" x2="408.35" y2="274.70" stroke="#1a1a1a" stroke-width="1.0" />
<text x="408.35" y="443.30" font-size="15.6" text-anchor="middle" fill="#1a1a1a" stroke="#1a1a1a" font-weight="normal" letter-spacing="0.15">2010</text>
<line x1="427.29" y1="424.70" x2="427.29" y2="422.00" stroke="#1a1a1a" stroke-width="0.8" />
<line x1="427.29" y1="268.80" x2="427.29" y2="271.50" stroke="#1a1a1a" stroke-width="0.8" />
<line x1="446.23" y1="424.70" x2="446.23" y2="422.00" stroke="#1a1a1a" stroke-width="0.8" />
<line x1="446.23" y1="268.80" x2="446.23" y2="271.50" stroke="#1a1a1a" stroke-width="0.8" />
<line x1="465.17" y1="424.70" x2="465.17" y2="422.00" stroke="#1a1a1a" stroke-width="0.8" />
<line x1="465.17" y1="268.80" x2="465.17" y2="271.50" stroke="#1a1a1a" stroke-width="0.8" />
<line x1="484.11" y1="424.70" x2="484.11" y2="422.00" stroke="#1a1a1a" stroke-width="0.8" />
<line x1="484.11" y1="268.80" x2="484.11" y2="271.50" stroke="#1a1a1a" stroke-width="0.8" />
<line x1="503.05" y1="424.70" x2="503.05" y2="418.80" stroke="#1a1a1a" stroke-width="1.0" />
<line x1="503.05" y1="268.80" x2="503.05" y2="274.70" stroke="#1a1a1a" stroke-width="1.0" />
<text x="503.05" y="443.30" font-size="15.6" text-anchor="middle" fill="#1a1a1a" stroke="#1a1a1a" font-weight="normal" letter-spacing="0.15">2015</text>
<line x1="521.99" y1="424.70" x2="521.99" y2="422.00" stroke="#1a1a1a" stroke-width="0.8" />
<line x1="521.99" y1="268.80" x2="521.99" y2="271.50" stroke="#1a1a1a" stroke-width="0.8" />
<line x1="540.93" y1="424.70" x2="540.93" y2="422.00" stroke="#1a1a1a" stroke-width="0.8" />
<line x1="540.93" y1="268.80" x2="540.93" y2="271.50" stroke="#1a1a1a" stroke-width="0.8" />
<line x1="559.87" y1="424.70" x2="559.87" y2="422.00" stroke="#1a1a1a" stroke-width="0.8" />
<line x1="559.87" y1="268.80" x2="559.87" y2="271.50" stroke="#1a1a1a" stroke-width="0.8" />
<line x1="578.81" y1="424.70" x2="578.81" y2="422.00" stroke="#1a1a1a" stroke-width="0.8" />
<line x1="578.81" y1="268.80" x2="578.81" y2="271.50" stroke="#1a1a1a" stroke-width="0.8" />
<line x1="597.75" y1="424.70" x2="597.75" y2="418.80" stroke="#1a1a1a" stroke-width="1.0" />
<line x1="597.75" y1="268.80" x2="597.75" y2="274.70" stroke="#1a1a1a" stroke-width="1.0" />
<text x="597.75" y="443.30" font-size="15.6" text-anchor="middle" fill="#1a1a1a" stroke="#1a1a1a" font-weight="normal" letter-spacing="0.15">2020</text>
<line x1="616.69" y1="424.70" x2="616.69" y2="422.00" stroke="#1a1a1a" stroke-width="0.8" />
<line x1="616.69" y1="268.80" x2="616.69" y2="271.50" stroke="#1a1a1a" stroke-width="0.8" />
<line x1="60.60" y1="421.58" x2="63.30" y2="421.58" stroke="#1a1a1a" stroke-width="0.8" />
<line x1="60.60" y1="411.56" x2="63.30" y2="411.56" stroke="#1a1a1a" stroke-width="0.8" />
<line x1="60.60" y1="401.54" x2="63.30" y2="401.54" stroke="#1a1a1a" stroke-width="0.8" />
<line x1="60.60" y1="391.52" x2="63.30" y2="391.52" stroke="#1a1a1a" stroke-width="0.8" />
<line x1="60.60" y1="381.50" x2="66.50" y2="381.50" stroke="#1a1a1a" stroke-width="1.0" />
<text x="54.00" y="386.70" font-size="15.8" text-anchor="end" fill="#1a1a1a" stroke="#1a1a1a" font-weight="normal" >1</text>
<line x1="34.41" y1="381.80" x2="44.20" y2="381.80" stroke="#1a1a1a" stroke-width="0.9796" />
<line x1="60.60" y1="371.48" x2="63.30" y2="371.48" stroke="#1a1a1a" stroke-width="0.8" />
<line x1="60.60" y1="361.46" x2="63.30" y2="361.46" stroke="#1a1a1a" stroke-width="0.8" />
<line x1="60.60" y1="351.44" x2="63.30" y2="351.44" stroke="#1a1a1a" stroke-width="0.8" />
<line x1="60.60" y1="341.42" x2="63.30" y2="341.42" stroke="#1a1a1a" stroke-width="0.8" />
<line x1="60.60" y1="331.40" x2="66.50" y2="331.40" stroke="#1a1a1a" stroke-width="1.0" />
<text x="54.00" y="336.60" font-size="15.8" text-anchor="end" fill="#1a1a1a" stroke="#1a1a1a" font-weight="normal" >0</text>
<line x1="60.60" y1="321.38" x2="63.30" y2="321.38" stroke="#1a1a1a" stroke-width="0.8" />
<line x1="60.60" y1="311.36" x2="63.30" y2="311.36" stroke="#1a1a1a" stroke-width="0.8" />
<line x1="60.60" y1="301.34" x2="63.30" y2="301.34" stroke="#1a1a1a" stroke-width="0.8" />
<line x1="60.60" y1="291.32" x2="63.30" y2="291.32" stroke="#1a1a1a" stroke-width="0.8" />
<line x1="60.60" y1="281.30" x2="66.50" y2="281.30" stroke="#1a1a1a" stroke-width="1.0" />
<text x="54.00" y="286.50" font-size="15.8" text-anchor="end" fill="#1a1a1a" stroke="#1a1a1a" font-weight="normal" >1</text>
<line x1="60.60" y1="271.28" x2="63.30" y2="271.28" stroke="#1a1a1a" stroke-width="0.8" />
<line x1="623.20" y1="413.40" x2="620.50" y2="413.40" stroke="#1a1a1a" stroke-width="0.8" />
<line x1="623.20" y1="401.90" x2="617.30" y2="401.90" stroke="#2a8c1e" stroke-width="1.0" />
<line x1="629.60" y1="402.19" x2="639.21" y2="402.19" stroke="#2a8c1e" stroke-width="0.961" />
<text x="641.07" y="407.00" font-size="15.5" text-anchor="start" fill="#2a8c1e" stroke="#2a8c1e" font-weight="normal" >0.5</text>
<line x1="623.20" y1="390.40" x2="620.50" y2="390.40" stroke="#1a1a1a" stroke-width="0.8" />
<line x1="623.20" y1="378.90" x2="620.50" y2="378.90" stroke="#1a1a1a" stroke-width="0.8" />
<line x1="623.20" y1="367.40" x2="620.50" y2="367.40" stroke="#1a1a1a" stroke-width="0.8" />
<line x1="623.20" y1="355.90" x2="620.50" y2="355.90" stroke="#1a1a1a" stroke-width="0.8" />
<line x1="623.20" y1="344.40" x2="617.30" y2="344.40" stroke="#2a8c1e" stroke-width="1.0" />
<text x="629.60" y="349.50" font-size="15.5" text-anchor="start" fill="#2a8c1e" stroke="#2a8c1e" font-weight="normal" >0.0</text>
<line x1="623.20" y1="332.90" x2="620.50" y2="332.90" stroke="#1a1a1a" stroke-width="0.8" />
<line x1="623.20" y1="321.40" x2="620.50" y2="321.40" stroke="#1a1a1a" stroke-width="0.8" />
<line x1="623.20" y1="309.90" x2="620.50" y2="309.90" stroke="#1a1a1a" stroke-width="0.8" />
<line x1="623.20" y1="298.40" x2="620.50" y2="298.40" stroke="#1a1a1a" stroke-width="0.8" />
<line x1="623.20" y1="286.90" x2="617.30" y2="286.90" stroke="#2a8c1e" stroke-width="1.0" />
<text x="629.60" y="292.00" font-size="15.5" text-anchor="start" fill="#2a8c1e" stroke="#2a8c1e" font-weight="normal" >0.5</text>
<line x1="623.20" y1="275.40" x2="620.50" y2="275.40" stroke="#1a1a1a" stroke-width="0.8" />
<text x="593.60" y="414.20" font-size="14.9" text-anchor="start" fill="#111" stroke="#111" font-weight="normal" >(c)</text>
<text transform="translate(23.0,426.6) rotate(-90) scale(1,1.05)" font-size="15.7" fill="#1a1a1a">Atmospheric Temperature <tspan font-size="9.4" fill="#444">(°C)</tspan></text>
<text transform="translate(680.6,407.6) rotate(-90) scale(1,1.1)" font-size="16" fill="#2a8c1e">Ocean Temperature <tspan font-size="9.0" fill="#5aa54e">(°C)</tspan></text>
<line x1="58.0" y1="235.6" x2="86.3" y2="235.6" stroke="#7f7f7f" stroke-width="2.0" stroke-dasharray="7.4,3.2"/>
<text x="97.90" y="240.20" font-size="14.2" text-anchor="start" fill="#1a1a1a" stroke="#1a1a1a" font-weight="normal" >Atmospheric Temperature</text>
<line x1="257.6" y1="235.6" x2="288.0" y2="235.6" stroke="#2b8282" stroke-width="1.7"/>
<text x="297.90" y="240.20" font-size="14.2" text-anchor="start" fill="#1a1a1a" stroke="#1a1a1a" font-weight="normal" >5m</text>
<line x1="357.4" y1="235.6" x2="387.79999999999995" y2="235.6" stroke="#98f598" stroke-width="1.6"/>
<text x="397.30" y="240.20" font-size="14.2" text-anchor="start" fill="#1a1a1a" stroke="#1a1a1a" font-weight="normal" >10m</text>
<line x1="457.6" y1="235.6" x2="488.0" y2="235.6" stroke="#2f8c22" stroke-width="1.8"/>
<text x="498.30" y="240.20" font-size="14.2" text-anchor="start" fill="#1a1a1a" stroke="#1a1a1a" font-weight="normal" >20m</text>
<line x1="557.6" y1="235.6" x2="588.0" y2="235.6" stroke="#35f535" stroke-width="1.7"/>
<text x="598.10" y="240.20" font-size="14.2" text-anchor="start" fill="#1a1a1a" stroke="#1a1a1a" font-weight="normal" >50m</text>
<line x1="58.0" y1="255.7" x2="88.4" y2="255.7" stroke="#46f40e" stroke-width="1.9"/>
<text x="97.90" y="260.30" font-size="14.2" text-anchor="start" fill="#1a1a1a" stroke="#1a1a1a" font-weight="normal" >100m</text>
<line x1="157.0" y1="255.7" x2="187.4" y2="255.7" stroke="#ffb6c8" stroke-width="1.6"/>
<text x="196.50" y="260.30" font-size="14.2" text-anchor="start" fill="#1a1a1a" stroke="#1a1a1a" font-weight="normal" >200m</text>
<line x1="257.6" y1="255.7" x2="288.0" y2="255.7" stroke="#d46bf2" stroke-width="1.7"/>
<text x="297.90" y="260.30" font-size="14.2" text-anchor="start" fill="#1a1a1a" stroke="#1a1a1a" font-weight="normal" >300m</text>
<line x1="357.4" y1="255.7" x2="387.79999999999995" y2="255.7" stroke="#800a86" stroke-width="1.9"/>
<text x="397.30" y="260.30" font-size="14.2" text-anchor="start" fill="#1a1a1a" stroke="#1a1a1a" font-weight="normal" >400m</text>
<line x1="457.6" y1="255.7" x2="488.0" y2="255.7" stroke="#e3a0ee" stroke-width="1.7"/>
<text x="498.30" y="260.30" font-size="14.2" text-anchor="start" fill="#1a1a1a" stroke="#1a1a1a" font-weight="normal" >500m</text>
<line x1="557.6" y1="255.7" x2="588.0" y2="255.7" stroke="#c52be6" stroke-width="2.0"/>
<text x="598.10" y="260.30" font-size="14.2" text-anchor="start" fill="#1a1a1a" stroke="#1a1a1a" font-weight="normal" >600m</text>
<clipPath id="cd"><rect x="60.6" y="464.5" width="562.3" height="145.20000000000005"/></clipPath>
<g clip-path="url(#cd)">
<path d="M86.4,570.0 L105.3,556.3 L124.2,530.0 L143.2,528.3 L162.1,543.8 L181.1,527.5 L200.0,540.0 L218.9,548.0 L237.9,563.8 L256.8,504.5 L275.8,530.0 L294.7,558.8 L313.6,547.5 L332.6,541.3 L351.5,567.0 L370.5,556.3 L389.4,572.0 L408.4,545.0 L427.3,508.8 L446.2,523.8 L465.2,562.5 L484.1,550.0 L503.1,515.0 L522.0,505.0 L540.9,492.5 L559.9,524.5 L578.8,494.5 L597.8,514.5" fill="none" stroke="#f0714a" stroke-width="1.9" stroke-linejoin="miter" stroke-miterlimit="6" stroke-dasharray="6.6,2.8"/>
<path d="M86.4,590.5 L105.3,577.8 L124.2,502.0 L143.2,542.5 L162.1,505.4 L181.1,542.0 L200.0,548.0 L218.9,566.3 L237.9,580.5 L256.8,535.5 L275.8,562.0 L294.7,575.5 L313.6,560.0 L332.6,583.8 L351.5,596.3 L370.5,603.0 L389.4,603.0 L408.4,503.8 L427.3,514.5 L446.2,583.8 L465.2,583.8 L484.1,561.3 L503.1,552.5 L522.0,483.8 L540.9,470.5 L559.9,521.3 L578.8,553.8 L597.8,551.3" fill="none" stroke="#3f6df0" stroke-width="1.9" stroke-linejoin="miter" stroke-miterlimit="6" stroke-dasharray="6.6,2.8"/>
<path d="M86.4,582.0 L105.3,558.3 L124.2,508.0 L143.2,547.5 L162.1,523.0 L181.1,542.5 L200.0,545.8 L218.9,568.8 L237.9,564.5 L256.8,527.5 L275.8,557.0 L294.7,575.5 L313.6,554.5 L332.6,583.3 L351.5,590.0 L370.5,597.0 L389.4,575.5 L408.4,523.8 L427.3,513.0 L446.2,563.0 L465.2,579.5 L484.1,553.8 L503.1,537.0 L522.0,500.0 L540.9,505.8 L559.9,541.8 L578.8,546.3 L597.8,534.5" fill="none" stroke="#555555" stroke-width="1.9" stroke-linejoin="miter" stroke-miterlimit="6"/>
</g>
<rect x="60.6" y="464.5" width="562.3" height="145.20000000000005" fill="none" stroke="#1a1a1a" stroke-width="1.0"/>
<line x1="67.43" y1="609.70" x2="67.43" y2="607.00" stroke="#1a1a1a" stroke-width="0.8" />
<line x1="67.43" y1="464.50" x2="67.43" y2="467.20" stroke="#1a1a1a" stroke-width="0.8" />
<line x1="86.37" y1="609.70" x2="86.37" y2="607.00" stroke="#1a1a1a" stroke-width="0.8" />
<line x1="86.37" y1="464.50" x2="86.37" y2="467.20" stroke="#1a1a1a" stroke-width="0.8" />
<line x1="105.31" y1="609.70" x2="105.31" y2="607.00" stroke="#1a1a1a" stroke-width="0.8" />
<line x1="105.31" y1="464.50" x2="105.31" y2="467.20" stroke="#1a1a1a" stroke-width="0.8" />
<line x1="124.25" y1="609.70" x2="124.25" y2="603.80" stroke="#1a1a1a" stroke-width="1.0" />
<line x1="124.25" y1="464.50" x2="124.25" y2="470.40" stroke="#1a1a1a" stroke-width="1.0" />
<text x="124.25" y="625.30" font-size="15.6" text-anchor="middle" fill="#1a1a1a" stroke="#1a1a1a" font-weight="normal" letter-spacing="0.15">1995</text>
<line x1="143.19" y1="609.70" x2="143.19" y2="607.00" stroke="#1a1a1a" stroke-width="0.8" />
<line x1="143.19" y1="464.50" x2="143.19" y2="467.20" stroke="#1a1a1a" stroke-width="0.8" />
<line x1="162.13" y1="609.70" x2="162.13" y2="607.00" stroke="#1a1a1a" stroke-width="0.8" />
<line x1="162.13" y1="464.50" x2="162.13" y2="467.20" stroke="#1a1a1a" stroke-width="0.8" />
<line x1="181.07" y1="609.70" x2="181.07" y2="607.00" stroke="#1a1a1a" stroke-width="0.8" />
<line x1="181.07" y1="464.50" x2="181.07" y2="467.20" stroke="#1a1a1a" stroke-width="0.8" />
<line x1="200.01" y1="609.70" x2="200.01" y2="607.00" stroke="#1a1a1a" stroke-width="0.8" />
<line x1="200.01" y1="464.50" x2="200.01" y2="467.20" stroke="#1a1a1a" stroke-width="0.8" />
<line x1="218.95" y1="609.70" x2="218.95" y2="603.80" stroke="#1a1a1a" stroke-width="1.0" />
<line x1="218.95" y1="464.50" x2="218.95" y2="470.40" stroke="#1a1a1a" stroke-width="1.0" />
<text x="218.95" y="625.30" font-size="15.6" text-anchor="middle" fill="#1a1a1a" stroke="#1a1a1a" font-weight="normal" letter-spacing="0.15">2000</text>
<line x1="237.89" y1="609.70" x2="237.89" y2="607.00" stroke="#1a1a1a" stroke-width="0.8" />
<line x1="237.89" y1="464.50" x2="237.89" y2="467.20" stroke="#1a1a1a" stroke-width="0.8" />
<line x1="256.83" y1="609.70" x2="256.83" y2="607.00" stroke="#1a1a1a" stroke-width="0.8" />
<line x1="256.83" y1="464.50" x2="256.83" y2="467.20" stroke="#1a1a1a" stroke-width="0.8" />
<line x1="275.77" y1="609.70" x2="275.77" y2="607.00" stroke="#1a1a1a" stroke-width="0.8" />
<line x1="275.77" y1="464.50" x2="275.77" y2="467.20" stroke="#1a1a1a" stroke-width="0.8" />
<line x1="294.71" y1="609.70" x2="294.71" y2="607.00" stroke="#1a1a1a" stroke-width="0.8" />
<line x1="294.71" y1="464.50" x2="294.71" y2="467.20" stroke="#1a1a1a" stroke-width="0.8" />
<line x1="313.65" y1="609.70" x2="313.65" y2="603.80" stroke="#1a1a1a" stroke-width="1.0" />
<line x1="313.65" y1="464.50" x2="313.65" y2="470.40" stroke="#1a1a1a" stroke-width="1.0" />
<text x="313.65" y="625.30" font-size="15.6" text-anchor="middle" fill="#1a1a1a" stroke="#1a1a1a" font-weight="normal" letter-spacing="0.15">2005</text>
<line x1="332.59" y1="609.70" x2="332.59" y2="607.00" stroke="#1a1a1a" stroke-width="0.8" />
<line x1="332.59" y1="464.50" x2="332.59" y2="467.20" stroke="#1a1a1a" stroke-width="0.8" />
<line x1="351.53" y1="609.70" x2="351.53" y2="607.00" stroke="#1a1a1a" stroke-width="0.8" />
<line x1="351.53" y1="464.50" x2="351.53" y2="467.20" stroke="#1a1a1a" stroke-width="0.8" />
<line x1="370.47" y1="609.70" x2="370.47" y2="607.00" stroke="#1a1a1a" stroke-width="0.8" />
<line x1="370.47" y1="464.50" x2="370.47" y2="467.20" stroke="#1a1a1a" stroke-width="0.8" />
<line x1="389.41" y1="609.70" x2="389.41" y2="607.00" stroke="#1a1a1a" stroke-width="0.8" />
<line x1="389.41" y1="464.50" x2="389.41" y2="467.20" stroke="#1a1a1a" stroke-width="0.8" />
<line x1="408.35" y1="609.70" x2="408.35" y2="603.80" stroke="#1a1a1a" stroke-width="1.0" />
<line x1="408.35" y1="464.50" x2="408.35" y2="470.40" stroke="#1a1a1a" stroke-width="1.0" />
<text x="408.35" y="625.30" font-size="15.6" text-anchor="middle" fill="#1a1a1a" stroke="#1a1a1a" font-weight="normal" letter-spacing="0.15">2010</text>
<line x1="427.29" y1="609.70" x2="427.29" y2="607.00" stroke="#1a1a1a" stroke-width="0.8" />
<line x1="427.29" y1="464.50" x2="427.29" y2="467.20" stroke="#1a1a1a" stroke-width="0.8" />
<line x1="446.23" y1="609.70" x2="446.23" y2="607.00" stroke="#1a1a1a" stroke-width="0.8" />
<line x1="446.23" y1="464.50" x2="446.23" y2="467.20" stroke="#1a1a1a" stroke-width="0.8" />
<line x1="465.17" y1="609.70" x2="465.17" y2="607.00" stroke="#1a1a1a" stroke-width="0.8" />
<line x1="465.17" y1="464.50" x2="465.17" y2="467.20" stroke="#1a1a1a" stroke-width="0.8" />
<line x1="484.11" y1="609.70" x2="484.11" y2="607.00" stroke="#1a1a1a" stroke-width="0.8" />
<line x1="484.11" y1="464.50" x2="484.11" y2="467.20" stroke="#1a1a1a" stroke-width="0.8" />
<line x1="503.05" y1="609.70" x2="503.05" y2="603.80" stroke="#1a1a1a" stroke-width="1.0" />
<line x1="503.05" y1="464.50" x2="503.05" y2="470.40" stroke="#1a1a1a" stroke-width="1.0" />
<text x="503.05" y="625.30" font-size="15.6" text-anchor="middle" fill="#1a1a1a" stroke="#1a1a1a" font-weight="normal" letter-spacing="0.15">2015</text>
<line x1="521.99" y1="609.70" x2="521.99" y2="607.00" stroke="#1a1a1a" stroke-width="0.8" />
<line x1="521.99" y1="464.50" x2="521.99" y2="467.20" stroke="#1a1a1a" stroke-width="0.8" />
<line x1="540.93" y1="609.70" x2="540.93" y2="607.00" stroke="#1a1a1a" stroke-width="0.8" />
<line x1="540.93" y1="464.50" x2="540.93" y2="467.20" stroke="#1a1a1a" stroke-width="0.8" />
<line x1="559.87" y1="609.70" x2="559.87" y2="607.00" stroke="#1a1a1a" stroke-width="0.8" />
<line x1="559.87" y1="464.50" x2="559.87" y2="467.20" stroke="#1a1a1a" stroke-width="0.8" />
<line x1="578.81" y1="609.70" x2="578.81" y2="607.00" stroke="#1a1a1a" stroke-width="0.8" />
<line x1="578.81" y1="464.50" x2="578.81" y2="467.20" stroke="#1a1a1a" stroke-width="0.8" />
<line x1="597.75" y1="609.70" x2="597.75" y2="603.80" stroke="#1a1a1a" stroke-width="1.0" />
<line x1="597.75" y1="464.50" x2="597.75" y2="470.40" stroke="#1a1a1a" stroke-width="1.0" />
<text x="597.75" y="625.30" font-size="15.6" text-anchor="middle" fill="#1a1a1a" stroke="#1a1a1a" font-weight="normal" letter-spacing="0.15">2020</text>
<line x1="616.69" y1="609.70" x2="616.69" y2="607.00" stroke="#1a1a1a" stroke-width="0.8" />
<line x1="616.69" y1="464.50" x2="616.69" y2="467.20" stroke="#1a1a1a" stroke-width="0.8" />
<line x1="60.60" y1="606.60" x2="66.50" y2="606.60" stroke="#1a1a1a" stroke-width="1.0" />
<line x1="622.90" y1="606.60" x2="617.00" y2="606.60" stroke="#1a1a1a" stroke-width="1.0" />
<text x="53.20" y="611.40" font-size="14.5" text-anchor="end" fill="#1a1a1a" stroke="#1a1a1a" font-weight="normal" >400</text>
<line x1="20.72" y1="606.90" x2="29.71" y2="606.90" stroke="#1a1a1a" stroke-width="0.899" />
<line x1="60.60" y1="597.07" x2="63.30" y2="597.07" stroke="#1a1a1a" stroke-width="0.8" />
<line x1="622.90" y1="597.07" x2="620.20" y2="597.07" stroke="#1a1a1a" stroke-width="0.8" />
<line x1="60.60" y1="587.54" x2="63.30" y2="587.54" stroke="#1a1a1a" stroke-width="0.8" />
<line x1="622.90" y1="587.54" x2="620.20" y2="587.54" stroke="#1a1a1a" stroke-width="0.8" />
<line x1="60.60" y1="578.01" x2="63.30" y2="578.01" stroke="#1a1a1a" stroke-width="0.8" />
<line x1="622.90" y1="578.01" x2="620.20" y2="578.01" stroke="#1a1a1a" stroke-width="0.8" />
<line x1="60.60" y1="568.48" x2="63.30" y2="568.48" stroke="#1a1a1a" stroke-width="0.8" />
<line x1="622.90" y1="568.48" x2="620.20" y2="568.48" stroke="#1a1a1a" stroke-width="0.8" />
<line x1="60.60" y1="558.95" x2="66.50" y2="558.95" stroke="#1a1a1a" stroke-width="1.0" />
<line x1="622.90" y1="558.95" x2="617.00" y2="558.95" stroke="#1a1a1a" stroke-width="1.0" />
<text x="53.20" y="563.75" font-size="14.5" text-anchor="end" fill="#1a1a1a" stroke="#1a1a1a" font-weight="normal" >300</text>
<line x1="20.72" y1="559.25" x2="29.71" y2="559.25" stroke="#1a1a1a" stroke-width="0.899" />
<line x1="60.60" y1="549.42" x2="63.30" y2="549.42" stroke="#1a1a1a" stroke-width="0.8" />
<line x1="622.90" y1="549.42" x2="620.20" y2="549.42" stroke="#1a1a1a" stroke-width="0.8" />
<line x1="60.60" y1="539.89" x2="63.30" y2="539.89" stroke="#1a1a1a" stroke-width="0.8" />
<line x1="622.90" y1="539.89" x2="620.20" y2="539.89" stroke="#1a1a1a" stroke-width="0.8" />
<line x1="60.60" y1="530.36" x2="63.30" y2="530.36" stroke="#1a1a1a" stroke-width="0.8" />
<line x1="622.90" y1="530.36" x2="620.20" y2="530.36" stroke="#1a1a1a" stroke-width="0.8" />
<line x1="60.60" y1="520.83" x2="63.30" y2="520.83" stroke="#1a1a1a" stroke-width="0.8" />
<line x1="622.90" y1="520.83" x2="620.20" y2="520.83" stroke="#1a1a1a" stroke-width="0.8" />
<line x1="60.60" y1="511.30" x2="66.50" y2="511.30" stroke="#1a1a1a" stroke-width="1.0" />
<line x1="622.90" y1="511.30" x2="617.00" y2="511.30" stroke="#1a1a1a" stroke-width="1.0" />
<text x="53.20" y="516.10" font-size="14.5" text-anchor="end" fill="#1a1a1a" stroke="#1a1a1a" font-weight="normal" >200</text>
<line x1="20.72" y1="511.61" x2="29.71" y2="511.61" stroke="#1a1a1a" stroke-width="0.899" />
<line x1="60.60" y1="501.77" x2="63.30" y2="501.77" stroke="#1a1a1a" stroke-width="0.8" />
<line x1="622.90" y1="501.77" x2="620.20" y2="501.77" stroke="#1a1a1a" stroke-width="0.8" />
<line x1="60.60" y1="492.24" x2="63.30" y2="492.24" stroke="#1a1a1a" stroke-width="0.8" />
<line x1="622.90" y1="492.24" x2="620.20" y2="492.24" stroke="#1a1a1a" stroke-width="0.8" />
<line x1="60.60" y1="482.71" x2="63.30" y2="482.71" stroke="#1a1a1a" stroke-width="0.8" />
<line x1="622.90" y1="482.71" x2="620.20" y2="482.71" stroke="#1a1a1a" stroke-width="0.8" />
<line x1="60.60" y1="473.18" x2="63.30" y2="473.18" stroke="#1a1a1a" stroke-width="0.8" />
<line x1="622.90" y1="473.18" x2="620.20" y2="473.18" stroke="#1a1a1a" stroke-width="0.8" />
<text x="595.40" y="600.40" font-size="14.9" text-anchor="start" fill="#111" stroke="#111" font-weight="normal" >(d)</text>
<text transform="translate(10.8,537.2) rotate(-90)" font-size="14.5" text-anchor="middle" fill="#1a1a1a">Depth (m)</text>
<line x1="282.2" y1="483.0" x2="311.8" y2="483.0" stroke="#555555" stroke-width="1.7"/>
<text x="323.60" y="487.60" font-size="14.55" text-anchor="start" fill="#1a1a1a" stroke="#1a1a1a" font-weight="normal" >Annual mean</text>
<line x1="282.2" y1="503.2" x2="309.0" y2="503.2" stroke="#f0714a" stroke-width="1.7" stroke-dasharray="6.6,2.8"/>
<text x="323.60" y="507.80" font-size="14.55" text-anchor="start" fill="#1a1a1a" stroke="#1a1a1a" font-weight="normal" >January</text>
<line x1="282.2" y1="523.8" x2="309.0" y2="523.8" stroke="#3f6df0" stroke-width="1.7" stroke-dasharray="6.6,2.8"/>
<text x="323.60" y="528.40" font-size="14.55" text-anchor="start" fill="#1a1a1a" stroke="#1a1a1a" font-weight="normal" >July</text>
</svg></body></html>
